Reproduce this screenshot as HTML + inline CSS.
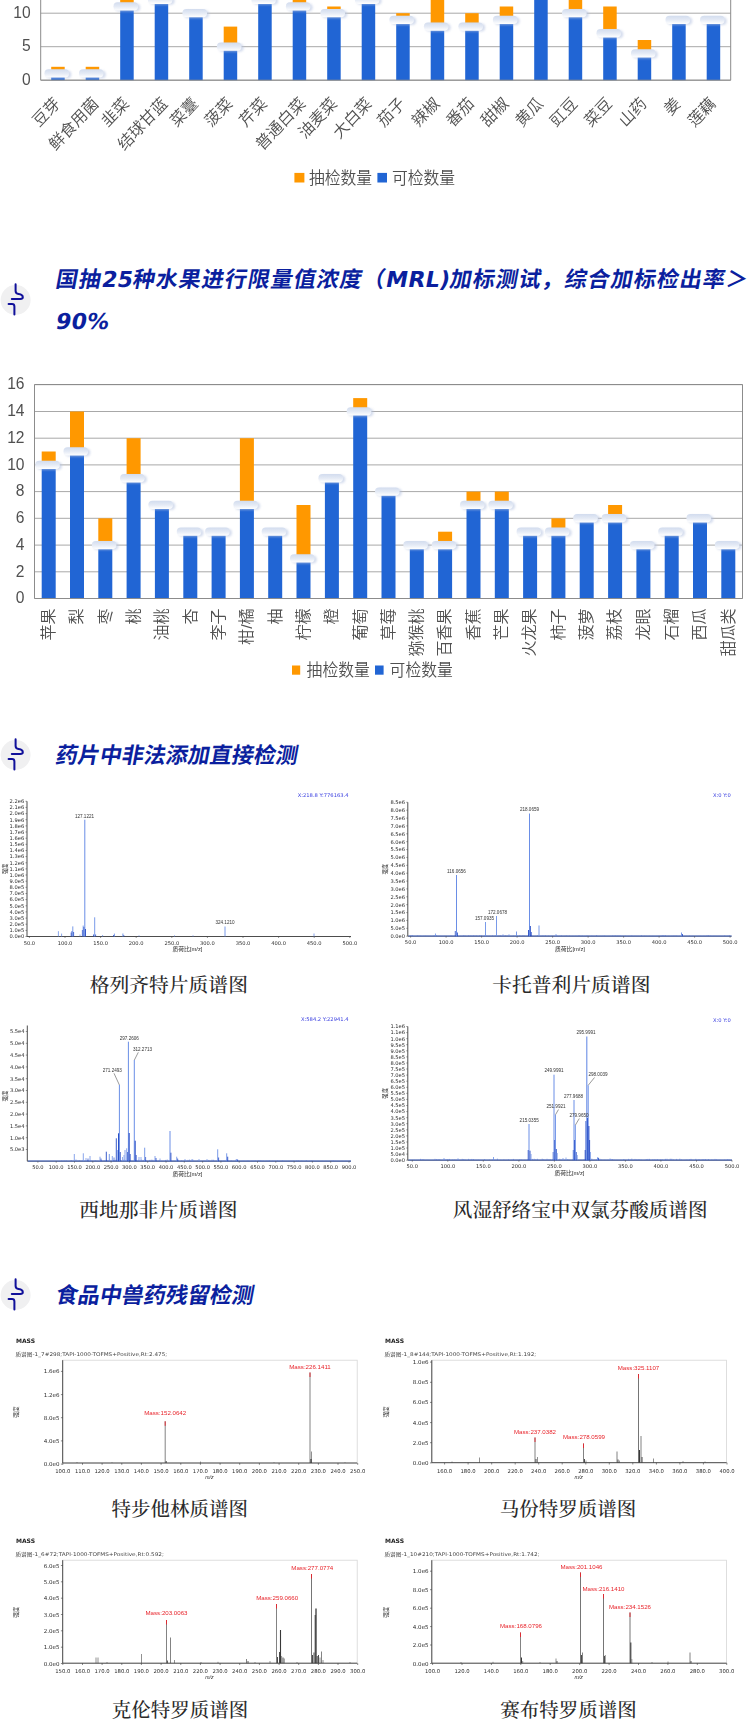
<!DOCTYPE html>
<html lang="zh-CN"><head><meta charset="utf-8"><title>质谱检测</title>
<style>
html,body{margin:0;padding:0;background:#fff;}
body{width:750px;height:1733px;position:relative;overflow:hidden;font-family:"Liberation Sans", "Noto Sans CJK SC", sans-serif;}
#charts{position:absolute;left:0;top:0;width:750px;height:1733px;filter:blur(0.35px);}
.hd{position:absolute;left:55px;margin:0;font-family:"DejaVu Sans", "Noto Sans CJK SC", sans-serif;font-weight:bold;font-style:normal;font-size:22px;line-height:42px;color:#0b1f9e;white-space:nowrap;letter-spacing:0;}
.hd .l{letter-spacing:0.25px;}
.hd .ln{display:block;transform:skewX(-10.5deg);transform-origin:0 62%;}
.ic{position:absolute;left:0;width:32px;height:40px;}
.cap{position:absolute;margin:0;font-family:"Liberation Serif", "Noto Serif CJK SC", serif;font-size:19.8px;line-height:24px;color:#2a2a2a;font-weight:500;white-space:nowrap;transform:translateX(-50%);}
svg text{font-family:"Liberation Sans", "Noto Sans CJK SC", sans-serif;}
svg text.cl{font-weight:350;}
svg text.dj{font-family:"DejaVu Sans", "Noto Sans CJK SC", sans-serif;}
</style></head><body>
<svg id="charts" width="750" height="1733" viewBox="0 0 750 1733">
<defs>
<linearGradient id="pg" x1="0" y1="0" x2="0" y2="1"><stop offset="0" stop-color="#d2dcee"/><stop offset="0.5" stop-color="#e4eaf5"/><stop offset="1" stop-color="#ffffff"/></linearGradient>
<filter id="sb" x="-20%" y="-50%" width="140%" height="200%"><feGaussianBlur stdDeviation="0.9"/></filter>
<g id="pill"><rect x="-11.2" y="-3" width="25" height="8" rx="4" fill="#b9c6e2" opacity="0.6" filter="url(#sb)"/><rect x="-13" y="-4.2" width="24.6" height="8.3" rx="4.1" fill="url(#pg)"/></g>
</defs>
<line x1="40.7" y1="80.2" x2="730.7" y2="80.2" stroke="#a8a8a8" stroke-width="1"/>
<text x="30.7" y="84.9" text-anchor="end" font-size="15.6" fill="#505050">0</text>
<line x1="40.7" y1="46.7" x2="730.7" y2="46.7" stroke="#a8a8a8" stroke-width="1"/>
<text x="30.7" y="51.4" text-anchor="end" font-size="15.6" fill="#505050">5</text>
<line x1="40.7" y1="13.2" x2="730.7" y2="13.2" stroke="#a8a8a8" stroke-width="1"/>
<text x="30.7" y="17.9" text-anchor="end" font-size="15.6" fill="#505050">10</text>
<rect x="51.2" y="66.8" width="13.5" height="6.7" fill="#ff9800"/>
<rect x="51.2" y="73.5" width="13.5" height="6.7" fill="#2165d4"/>
<use href="#pill" x="57.5" y="73.5"/>
<rect x="85.7" y="66.8" width="13.5" height="6.7" fill="#ff9800"/>
<rect x="85.7" y="73.5" width="13.5" height="6.7" fill="#2165d4"/>
<use href="#pill" x="92.0" y="73.5"/>
<rect x="120.2" y="-0.2" width="13.5" height="6.7" fill="#ff9800"/>
<rect x="120.2" y="6.5" width="13.5" height="73.7" fill="#2165d4"/>
<use href="#pill" x="126.5" y="6.5"/>
<rect x="154.7" y="-0.2" width="13.5" height="80.4" fill="#2165d4"/>
<use href="#pill" x="160.9" y="-0.2"/>
<rect x="189.2" y="13.2" width="13.5" height="67.0" fill="#2165d4"/>
<use href="#pill" x="195.4" y="13.2"/>
<rect x="223.7" y="26.6" width="13.5" height="20.1" fill="#ff9800"/>
<rect x="223.7" y="46.7" width="13.5" height="33.5" fill="#2165d4"/>
<use href="#pill" x="229.9" y="46.7"/>
<rect x="258.2" y="-0.2" width="13.5" height="80.4" fill="#2165d4"/>
<use href="#pill" x="264.4" y="-0.2"/>
<rect x="292.7" y="-0.2" width="13.5" height="6.7" fill="#ff9800"/>
<rect x="292.7" y="6.5" width="13.5" height="73.7" fill="#2165d4"/>
<use href="#pill" x="298.9" y="6.5"/>
<rect x="327.2" y="6.5" width="13.5" height="6.7" fill="#ff9800"/>
<rect x="327.2" y="13.2" width="13.5" height="67.0" fill="#2165d4"/>
<use href="#pill" x="333.4" y="13.2"/>
<rect x="361.7" y="-0.2" width="13.5" height="80.4" fill="#2165d4"/>
<use href="#pill" x="367.9" y="-0.2"/>
<rect x="396.2" y="13.2" width="13.5" height="6.7" fill="#ff9800"/>
<rect x="396.2" y="19.9" width="13.5" height="60.3" fill="#2165d4"/>
<use href="#pill" x="402.4" y="19.9"/>
<rect x="430.7" y="-6.9" width="13.5" height="33.5" fill="#ff9800"/>
<rect x="430.7" y="26.6" width="13.5" height="53.6" fill="#2165d4"/>
<use href="#pill" x="436.9" y="26.6"/>
<rect x="465.2" y="13.2" width="13.5" height="13.4" fill="#ff9800"/>
<rect x="465.2" y="26.6" width="13.5" height="53.6" fill="#2165d4"/>
<use href="#pill" x="471.4" y="26.6"/>
<rect x="499.7" y="6.5" width="13.5" height="13.4" fill="#ff9800"/>
<rect x="499.7" y="19.9" width="13.5" height="60.3" fill="#2165d4"/>
<use href="#pill" x="505.9" y="19.9"/>
<rect x="534.2" y="-13.6" width="13.5" height="93.8" fill="#2165d4"/>
<use href="#pill" x="540.5" y="-13.6"/>
<rect x="568.7" y="-6.9" width="13.5" height="20.1" fill="#ff9800"/>
<rect x="568.7" y="13.2" width="13.5" height="67.0" fill="#2165d4"/>
<use href="#pill" x="575.0" y="13.2"/>
<rect x="603.2" y="6.5" width="13.5" height="26.8" fill="#ff9800"/>
<rect x="603.2" y="33.3" width="13.5" height="46.9" fill="#2165d4"/>
<use href="#pill" x="609.5" y="33.3"/>
<rect x="637.7" y="40.0" width="13.5" height="13.4" fill="#ff9800"/>
<rect x="637.7" y="53.4" width="13.5" height="26.8" fill="#2165d4"/>
<use href="#pill" x="644.0" y="53.4"/>
<rect x="672.2" y="19.9" width="13.5" height="60.3" fill="#2165d4"/>
<use href="#pill" x="678.5" y="19.9"/>
<rect x="706.7" y="19.9" width="13.5" height="60.3" fill="#2165d4"/>
<use href="#pill" x="713.0" y="19.9"/>
<path d="M40.7 -10.0 V80.2 H730.7 V-10.0" fill="none" stroke="#8c8c8c" stroke-width="1"/>
<text class="cl" transform="translate(61.0,104.5) scale(1,1.06) rotate(-45)" text-anchor="end" font-size="15.6" fill="#505050">豆芽</text>
<text class="cl" transform="translate(99.5,104.5) scale(1,1.06) rotate(-45)" text-anchor="end" font-size="15.6" fill="#505050">鲜食用菌</text>
<text class="cl" transform="translate(129.9,104.5) scale(1,1.06) rotate(-45)" text-anchor="end" font-size="15.6" fill="#505050">韭菜</text>
<text class="cl" transform="translate(168.4,104.5) scale(1,1.06) rotate(-45)" text-anchor="end" font-size="15.6" fill="#505050">结球甘蓝</text>
<text class="cl" transform="translate(198.9,104.5) scale(1,1.06) rotate(-45)" text-anchor="end" font-size="15.6" fill="#505050">菜薹</text>
<text class="cl" transform="translate(233.4,104.5) scale(1,1.06) rotate(-45)" text-anchor="end" font-size="15.6" fill="#505050">菠菜</text>
<text class="cl" transform="translate(267.9,104.5) scale(1,1.06) rotate(-45)" text-anchor="end" font-size="15.6" fill="#505050">芹菜</text>
<text class="cl" transform="translate(306.4,104.5) scale(1,1.06) rotate(-45)" text-anchor="end" font-size="15.6" fill="#505050">普通白菜</text>
<text class="cl" transform="translate(338.1,104.5) scale(1,1.06) rotate(-45)" text-anchor="end" font-size="15.6" fill="#505050">油麦菜</text>
<text class="cl" transform="translate(372.6,104.5) scale(1,1.06) rotate(-45)" text-anchor="end" font-size="15.6" fill="#505050">大白菜</text>
<text class="cl" transform="translate(405.9,104.5) scale(1,1.06) rotate(-45)" text-anchor="end" font-size="15.6" fill="#505050">茄子</text>
<text class="cl" transform="translate(440.4,104.5) scale(1,1.06) rotate(-45)" text-anchor="end" font-size="15.6" fill="#505050">辣椒</text>
<text class="cl" transform="translate(474.9,104.5) scale(1,1.06) rotate(-45)" text-anchor="end" font-size="15.6" fill="#505050">番茄</text>
<text class="cl" transform="translate(509.5,104.5) scale(1,1.06) rotate(-45)" text-anchor="end" font-size="15.6" fill="#505050">甜椒</text>
<text class="cl" transform="translate(544.0,104.5) scale(1,1.06) rotate(-45)" text-anchor="end" font-size="15.6" fill="#505050">黄瓜</text>
<text class="cl" transform="translate(578.5,104.5) scale(1,1.06) rotate(-45)" text-anchor="end" font-size="15.6" fill="#505050">豇豆</text>
<text class="cl" transform="translate(613.0,104.5) scale(1,1.06) rotate(-45)" text-anchor="end" font-size="15.6" fill="#505050">菜豆</text>
<text class="cl" transform="translate(647.5,104.5) scale(1,1.06) rotate(-45)" text-anchor="end" font-size="15.6" fill="#505050">山药</text>
<text class="cl" transform="translate(681.5,104.5) scale(1,1.06) rotate(-45)" text-anchor="end" font-size="15.6" fill="#505050">姜</text>
<text class="cl" transform="translate(716.5,104.5) scale(1,1.06) rotate(-45)" text-anchor="end" font-size="15.6" fill="#505050">莲藕</text>
<rect x="294.4" y="172.9" width="10.0" height="9.6" fill="#ff9800"/>
<text class="cl" transform="translate(309.0,183.5) scale(1,1.05)" font-size="15.8" fill="#505050">抽检数量</text>
<rect x="377.4" y="172.9" width="9.6" height="9.6" fill="#2165d4"/>
<text class="cl" transform="translate(392.0,183.5) scale(1,1.05)" font-size="15.8" fill="#505050">可检数量</text>
<line x1="34.5" y1="598.5" x2="742.5" y2="598.5" stroke="#a8a8a8" stroke-width="1"/>
<text x="24.5" y="603.2" text-anchor="end" font-size="15.6" fill="#505050">0</text>
<line x1="34.5" y1="571.8" x2="742.5" y2="571.8" stroke="#a8a8a8" stroke-width="1"/>
<text x="24.5" y="576.5" text-anchor="end" font-size="15.6" fill="#505050">2</text>
<line x1="34.5" y1="545.1" x2="742.5" y2="545.1" stroke="#a8a8a8" stroke-width="1"/>
<text x="24.5" y="549.8" text-anchor="end" font-size="15.6" fill="#505050">4</text>
<line x1="34.5" y1="518.3" x2="742.5" y2="518.3" stroke="#a8a8a8" stroke-width="1"/>
<text x="24.5" y="523.0" text-anchor="end" font-size="15.6" fill="#505050">6</text>
<line x1="34.5" y1="491.6" x2="742.5" y2="491.6" stroke="#a8a8a8" stroke-width="1"/>
<text x="24.5" y="496.3" text-anchor="end" font-size="15.6" fill="#505050">8</text>
<line x1="34.5" y1="464.9" x2="742.5" y2="464.9" stroke="#a8a8a8" stroke-width="1"/>
<text x="24.5" y="469.6" text-anchor="end" font-size="15.6" fill="#505050">10</text>
<line x1="34.5" y1="438.2" x2="742.5" y2="438.2" stroke="#a8a8a8" stroke-width="1"/>
<text x="24.5" y="442.9" text-anchor="end" font-size="15.6" fill="#505050">12</text>
<line x1="34.5" y1="411.5" x2="742.5" y2="411.5" stroke="#a8a8a8" stroke-width="1"/>
<text x="24.5" y="416.2" text-anchor="end" font-size="15.6" fill="#505050">14</text>
<line x1="34.5" y1="384.7" x2="742.5" y2="384.7" stroke="#a8a8a8" stroke-width="1"/>
<text x="24.5" y="389.4" text-anchor="end" font-size="15.6" fill="#505050">16</text>
<rect x="41.7" y="451.5" width="14.0" height="13.4" fill="#ff9800"/>
<rect x="41.7" y="464.9" width="14.0" height="133.6" fill="#2165d4"/>
<use href="#pill" x="48.2" y="464.9"/>
<rect x="70.0" y="411.5" width="14.0" height="40.1" fill="#ff9800"/>
<rect x="70.0" y="451.5" width="14.0" height="147.0" fill="#2165d4"/>
<use href="#pill" x="76.5" y="451.5"/>
<rect x="98.3" y="518.3" width="14.0" height="26.7" fill="#ff9800"/>
<rect x="98.3" y="545.1" width="14.0" height="53.4" fill="#2165d4"/>
<use href="#pill" x="104.8" y="545.1"/>
<rect x="126.6" y="438.2" width="14.0" height="40.1" fill="#ff9800"/>
<rect x="126.6" y="478.3" width="14.0" height="120.2" fill="#2165d4"/>
<use href="#pill" x="133.1" y="478.3"/>
<rect x="154.9" y="505.0" width="14.0" height="93.5" fill="#2165d4"/>
<use href="#pill" x="161.4" y="505.0"/>
<rect x="183.3" y="531.7" width="14.0" height="66.8" fill="#2165d4"/>
<use href="#pill" x="189.8" y="531.7"/>
<rect x="211.6" y="531.7" width="14.0" height="66.8" fill="#2165d4"/>
<use href="#pill" x="218.1" y="531.7"/>
<rect x="239.9" y="438.2" width="14.0" height="66.8" fill="#ff9800"/>
<rect x="239.9" y="505.0" width="14.0" height="93.5" fill="#2165d4"/>
<use href="#pill" x="246.4" y="505.0"/>
<rect x="268.2" y="531.7" width="14.0" height="66.8" fill="#2165d4"/>
<use href="#pill" x="274.7" y="531.7"/>
<rect x="296.5" y="505.0" width="14.0" height="53.4" fill="#ff9800"/>
<rect x="296.5" y="558.4" width="14.0" height="40.1" fill="#2165d4"/>
<use href="#pill" x="303.0" y="558.4"/>
<rect x="324.9" y="478.3" width="14.0" height="120.2" fill="#2165d4"/>
<use href="#pill" x="331.4" y="478.3"/>
<rect x="353.2" y="398.1" width="14.0" height="13.4" fill="#ff9800"/>
<rect x="353.2" y="411.5" width="14.0" height="187.0" fill="#2165d4"/>
<use href="#pill" x="359.7" y="411.5"/>
<rect x="381.5" y="491.6" width="14.0" height="106.9" fill="#2165d4"/>
<use href="#pill" x="388.0" y="491.6"/>
<rect x="409.8" y="545.1" width="14.0" height="53.4" fill="#2165d4"/>
<use href="#pill" x="416.3" y="545.1"/>
<rect x="438.1" y="531.7" width="14.0" height="13.4" fill="#ff9800"/>
<rect x="438.1" y="545.1" width="14.0" height="53.4" fill="#2165d4"/>
<use href="#pill" x="444.6" y="545.1"/>
<rect x="466.5" y="491.6" width="14.0" height="13.4" fill="#ff9800"/>
<rect x="466.5" y="505.0" width="14.0" height="93.5" fill="#2165d4"/>
<use href="#pill" x="473.0" y="505.0"/>
<rect x="494.8" y="491.6" width="14.0" height="13.4" fill="#ff9800"/>
<rect x="494.8" y="505.0" width="14.0" height="93.5" fill="#2165d4"/>
<use href="#pill" x="501.3" y="505.0"/>
<rect x="523.1" y="531.7" width="14.0" height="66.8" fill="#2165d4"/>
<use href="#pill" x="529.6" y="531.7"/>
<rect x="551.4" y="518.3" width="14.0" height="13.4" fill="#ff9800"/>
<rect x="551.4" y="531.7" width="14.0" height="66.8" fill="#2165d4"/>
<use href="#pill" x="557.9" y="531.7"/>
<rect x="579.7" y="518.3" width="14.0" height="80.2" fill="#2165d4"/>
<use href="#pill" x="586.2" y="518.3"/>
<rect x="608.1" y="505.0" width="14.0" height="13.4" fill="#ff9800"/>
<rect x="608.1" y="518.3" width="14.0" height="80.2" fill="#2165d4"/>
<use href="#pill" x="614.6" y="518.3"/>
<rect x="636.4" y="545.1" width="14.0" height="53.4" fill="#2165d4"/>
<use href="#pill" x="642.9" y="545.1"/>
<rect x="664.7" y="531.7" width="14.0" height="66.8" fill="#2165d4"/>
<use href="#pill" x="671.2" y="531.7"/>
<rect x="693.0" y="518.3" width="14.0" height="80.2" fill="#2165d4"/>
<use href="#pill" x="699.5" y="518.3"/>
<rect x="721.3" y="545.1" width="14.0" height="53.4" fill="#2165d4"/>
<use href="#pill" x="727.8" y="545.1"/>
<path d="M34.5 384.5 V598.5 H742.5 V384.5" fill="none" stroke="#8c8c8c" stroke-width="1"/>
<line x1="34.5" y1="384.5" x2="742.5" y2="384.5" stroke="#8c8c8c" stroke-width="1"/>
<text class="cl" transform="translate(54.0,608.3) rotate(-90) scale(1,0.96)" text-anchor="end" font-size="16.1" fill="#505050">苹果</text>
<text class="cl" transform="translate(82.3,608.3) rotate(-90) scale(1,0.96)" text-anchor="end" font-size="16.1" fill="#505050">梨</text>
<text class="cl" transform="translate(110.6,608.3) rotate(-90) scale(1,0.96)" text-anchor="end" font-size="16.1" fill="#505050">枣</text>
<text class="cl" transform="translate(138.9,608.3) rotate(-90) scale(1,0.96)" text-anchor="end" font-size="16.1" fill="#505050">桃</text>
<text class="cl" transform="translate(167.2,608.3) rotate(-90) scale(1,0.96)" text-anchor="end" font-size="16.1" fill="#505050">油桃</text>
<text class="cl" transform="translate(195.6,608.3) rotate(-90) scale(1,0.96)" text-anchor="end" font-size="16.1" fill="#505050">杏</text>
<text class="cl" transform="translate(223.9,608.3) rotate(-90) scale(1,0.96)" text-anchor="end" font-size="16.1" fill="#505050">李子</text>
<text class="cl" transform="translate(252.2,608.3) rotate(-90) scale(1,0.96)" text-anchor="end" font-size="16.1" fill="#505050">柑/橘</text>
<text class="cl" transform="translate(280.5,608.3) rotate(-90) scale(1,0.96)" text-anchor="end" font-size="16.1" fill="#505050">柚</text>
<text class="cl" transform="translate(308.8,608.3) rotate(-90) scale(1,0.96)" text-anchor="end" font-size="16.1" fill="#505050">柠檬</text>
<text class="cl" transform="translate(337.2,608.3) rotate(-90) scale(1,0.96)" text-anchor="end" font-size="16.1" fill="#505050">橙</text>
<text class="cl" transform="translate(365.5,608.3) rotate(-90) scale(1,0.96)" text-anchor="end" font-size="16.1" fill="#505050">葡萄</text>
<text class="cl" transform="translate(393.8,608.3) rotate(-90) scale(1,0.96)" text-anchor="end" font-size="16.1" fill="#505050">草莓</text>
<text class="cl" transform="translate(422.1,608.3) rotate(-90) scale(1,0.96)" text-anchor="end" font-size="16.1" fill="#505050">猕猴桃</text>
<text class="cl" transform="translate(450.4,608.3) rotate(-90) scale(1,0.96)" text-anchor="end" font-size="16.1" fill="#505050">百香果</text>
<text class="cl" transform="translate(478.8,608.3) rotate(-90) scale(1,0.96)" text-anchor="end" font-size="16.1" fill="#505050">香蕉</text>
<text class="cl" transform="translate(507.1,608.3) rotate(-90) scale(1,0.96)" text-anchor="end" font-size="16.1" fill="#505050">芒果</text>
<text class="cl" transform="translate(535.4,608.3) rotate(-90) scale(1,0.96)" text-anchor="end" font-size="16.1" fill="#505050">火龙果</text>
<text class="cl" transform="translate(563.7,608.3) rotate(-90) scale(1,0.96)" text-anchor="end" font-size="16.1" fill="#505050">柿子</text>
<text class="cl" transform="translate(592.0,608.3) rotate(-90) scale(1,0.96)" text-anchor="end" font-size="16.1" fill="#505050">菠萝</text>
<text class="cl" transform="translate(620.4,608.3) rotate(-90) scale(1,0.96)" text-anchor="end" font-size="16.1" fill="#505050">荔枝</text>
<text class="cl" transform="translate(648.7,608.3) rotate(-90) scale(1,0.96)" text-anchor="end" font-size="16.1" fill="#505050">龙眼</text>
<text class="cl" transform="translate(677.0,608.3) rotate(-90) scale(1,0.96)" text-anchor="end" font-size="16.1" fill="#505050">石榴</text>
<text class="cl" transform="translate(705.3,608.3) rotate(-90) scale(1,0.96)" text-anchor="end" font-size="16.1" fill="#505050">西瓜</text>
<text class="cl" transform="translate(733.6,608.3) rotate(-90) scale(1,0.96)" text-anchor="end" font-size="16.1" fill="#505050">甜瓜类</text>
<rect x="292.0" y="665.5" width="8.2" height="9.2" fill="#ff9800"/>
<text class="cl" transform="translate(306.6,675.9) scale(1,1.05)" font-size="15.8" fill="#505050">抽检数量</text>
<rect x="375.0" y="665.5" width="8.6" height="9.2" fill="#2165d4"/>
<text class="cl" transform="translate(389.6,675.9) scale(1,1.05)" font-size="15.8" fill="#505050">可检数量</text>
<g>
<path d="M27.0 801.3 V936.5 H351.0" fill="none" stroke="#4d4d4d" stroke-width="1"/>
<line x1="58.4" y1="936.5" x2="58.4" y2="931.2" stroke="#6a8ee6" stroke-width="0.8"/>
<line x1="61.6" y1="936.5" x2="61.6" y2="933.6" stroke="#6a8ee6" stroke-width="0.8"/>
<line x1="71.2" y1="936.5" x2="71.2" y2="932.5" stroke="#2248c4" stroke-width="0.8"/>
<line x1="72.0" y1="936.5" x2="72.0" y2="931.0" stroke="#2248c4" stroke-width="0.8"/>
<line x1="72.8" y1="936.5" x2="72.8" y2="926.4" stroke="#6a8ee6" stroke-width="0.9"/>
<line x1="73.6" y1="936.5" x2="73.6" y2="932.0" stroke="#2248c4" stroke-width="0.8"/>
<line x1="80.0" y1="936.5" x2="80.0" y2="934.5" stroke="#6a8ee6" stroke-width="0.7"/>
<line x1="82.4" y1="936.5" x2="82.4" y2="930.0" stroke="#2248c4" stroke-width="0.8"/>
<line x1="83.2" y1="936.5" x2="83.2" y2="925.6" stroke="#6a8ee6" stroke-width="0.9"/>
<line x1="84.0" y1="936.5" x2="84.0" y2="927.0" stroke="#2248c4" stroke-width="0.9"/>
<line x1="84.8" y1="936.5" x2="84.8" y2="819.7" stroke="#6a8ee6" stroke-width="1.0"/>
<line x1="85.5" y1="936.5" x2="85.5" y2="929.0" stroke="#2248c4" stroke-width="0.9"/>
<line x1="94.7" y1="936.5" x2="94.7" y2="917.3" stroke="#6a8ee6" stroke-width="0.9"/>
<line x1="93.5" y1="936.5" x2="93.5" y2="934.5" stroke="#2248c4" stroke-width="0.8"/>
<line x1="95.6" y1="936.5" x2="95.6" y2="934.5" stroke="#2248c4" stroke-width="0.8"/>
<line x1="102.6" y1="936.5" x2="102.6" y2="935.0" stroke="#6a8ee6" stroke-width="0.8"/>
<line x1="114.4" y1="936.5" x2="114.4" y2="933.6" stroke="#6a8ee6" stroke-width="0.9"/>
<line x1="113.6" y1="936.5" x2="113.6" y2="935.0" stroke="#2248c4" stroke-width="0.8"/>
<line x1="122.9" y1="936.5" x2="122.9" y2="933.5" stroke="#6a8ee6" stroke-width="0.9"/>
<line x1="123.8" y1="936.5" x2="123.8" y2="935.0" stroke="#2248c4" stroke-width="0.7"/>
<line x1="225.0" y1="936.5" x2="225.0" y2="926.5" stroke="#6a8ee6" stroke-width="0.9"/>
<line x1="314.0" y1="936.5" x2="314.0" y2="933.5" stroke="#6a8ee6" stroke-width="0.8"/>
<line x1="139.0" y1="936.5" x2="139.0" y2="935.3" stroke="#6a8ee6" stroke-width="0.7"/>
<line x1="174.5" y1="936.5" x2="174.5" y2="935.3" stroke="#6a8ee6" stroke-width="0.7"/>
<line x1="193.0" y1="936.5" x2="193.0" y2="935.3" stroke="#6a8ee6" stroke-width="0.7"/>
<line x1="25.5" y1="936.5" x2="27.0" y2="936.5" stroke="#4d4d4d" stroke-width="0.6"/>
<text class="dj" x="24.2" y="938.3" text-anchor="end" font-size="5.15" fill="#2c2c2c">0.0e0</text>
<line x1="25.5" y1="930.4" x2="27.0" y2="930.4" stroke="#4d4d4d" stroke-width="0.6"/>
<text class="dj" x="24.2" y="932.2" text-anchor="end" font-size="5.15" fill="#2c2c2c">1.0e5</text>
<line x1="25.5" y1="924.2" x2="27.0" y2="924.2" stroke="#4d4d4d" stroke-width="0.6"/>
<text class="dj" x="24.2" y="926.0" text-anchor="end" font-size="5.15" fill="#2c2c2c">2.0e5</text>
<line x1="25.5" y1="918.1" x2="27.0" y2="918.1" stroke="#4d4d4d" stroke-width="0.6"/>
<text class="dj" x="24.2" y="919.9" text-anchor="end" font-size="5.15" fill="#2c2c2c">3.0e5</text>
<line x1="25.5" y1="911.9" x2="27.0" y2="911.9" stroke="#4d4d4d" stroke-width="0.6"/>
<text class="dj" x="24.2" y="913.7" text-anchor="end" font-size="5.15" fill="#2c2c2c">4.0e5</text>
<line x1="25.5" y1="905.8" x2="27.0" y2="905.8" stroke="#4d4d4d" stroke-width="0.6"/>
<text class="dj" x="24.2" y="907.6" text-anchor="end" font-size="5.15" fill="#2c2c2c">5.0e5</text>
<line x1="25.5" y1="899.6" x2="27.0" y2="899.6" stroke="#4d4d4d" stroke-width="0.6"/>
<text class="dj" x="24.2" y="901.4" text-anchor="end" font-size="5.15" fill="#2c2c2c">6.0e5</text>
<line x1="25.5" y1="893.5" x2="27.0" y2="893.5" stroke="#4d4d4d" stroke-width="0.6"/>
<text class="dj" x="24.2" y="895.3" text-anchor="end" font-size="5.15" fill="#2c2c2c">7.0e5</text>
<line x1="25.5" y1="887.3" x2="27.0" y2="887.3" stroke="#4d4d4d" stroke-width="0.6"/>
<text class="dj" x="24.2" y="889.1" text-anchor="end" font-size="5.15" fill="#2c2c2c">8.0e5</text>
<line x1="25.5" y1="881.2" x2="27.0" y2="881.2" stroke="#4d4d4d" stroke-width="0.6"/>
<text class="dj" x="24.2" y="883.0" text-anchor="end" font-size="5.15" fill="#2c2c2c">9.0e5</text>
<line x1="25.5" y1="875.0" x2="27.0" y2="875.0" stroke="#4d4d4d" stroke-width="0.6"/>
<text class="dj" x="24.2" y="876.8" text-anchor="end" font-size="5.15" fill="#2c2c2c">1.0e6</text>
<line x1="25.5" y1="868.9" x2="27.0" y2="868.9" stroke="#4d4d4d" stroke-width="0.6"/>
<text class="dj" x="24.2" y="870.7" text-anchor="end" font-size="5.15" fill="#2c2c2c">1.1e6</text>
<line x1="25.5" y1="862.8" x2="27.0" y2="862.8" stroke="#4d4d4d" stroke-width="0.6"/>
<text class="dj" x="24.2" y="864.6" text-anchor="end" font-size="5.15" fill="#2c2c2c">1.2e6</text>
<line x1="25.5" y1="856.6" x2="27.0" y2="856.6" stroke="#4d4d4d" stroke-width="0.6"/>
<text class="dj" x="24.2" y="858.4" text-anchor="end" font-size="5.15" fill="#2c2c2c">1.3e6</text>
<line x1="25.5" y1="850.5" x2="27.0" y2="850.5" stroke="#4d4d4d" stroke-width="0.6"/>
<text class="dj" x="24.2" y="852.3" text-anchor="end" font-size="5.15" fill="#2c2c2c">1.4e6</text>
<line x1="25.5" y1="844.3" x2="27.0" y2="844.3" stroke="#4d4d4d" stroke-width="0.6"/>
<text class="dj" x="24.2" y="846.1" text-anchor="end" font-size="5.15" fill="#2c2c2c">1.5e6</text>
<line x1="25.5" y1="838.2" x2="27.0" y2="838.2" stroke="#4d4d4d" stroke-width="0.6"/>
<text class="dj" x="24.2" y="840.0" text-anchor="end" font-size="5.15" fill="#2c2c2c">1.6e6</text>
<line x1="25.5" y1="832.0" x2="27.0" y2="832.0" stroke="#4d4d4d" stroke-width="0.6"/>
<text class="dj" x="24.2" y="833.8" text-anchor="end" font-size="5.15" fill="#2c2c2c">1.7e6</text>
<line x1="25.5" y1="825.9" x2="27.0" y2="825.9" stroke="#4d4d4d" stroke-width="0.6"/>
<text class="dj" x="24.2" y="827.7" text-anchor="end" font-size="5.15" fill="#2c2c2c">1.8e6</text>
<line x1="25.5" y1="819.7" x2="27.0" y2="819.7" stroke="#4d4d4d" stroke-width="0.6"/>
<text class="dj" x="24.2" y="821.5" text-anchor="end" font-size="5.15" fill="#2c2c2c">1.9e6</text>
<line x1="25.5" y1="813.6" x2="27.0" y2="813.6" stroke="#4d4d4d" stroke-width="0.6"/>
<text class="dj" x="24.2" y="815.4" text-anchor="end" font-size="5.15" fill="#2c2c2c">2.0e6</text>
<line x1="25.5" y1="807.4" x2="27.0" y2="807.4" stroke="#4d4d4d" stroke-width="0.6"/>
<text class="dj" x="24.2" y="809.2" text-anchor="end" font-size="5.15" fill="#2c2c2c">2.1e6</text>
<line x1="25.5" y1="801.3" x2="27.0" y2="801.3" stroke="#4d4d4d" stroke-width="0.6"/>
<text class="dj" x="24.2" y="803.1" text-anchor="end" font-size="5.15" fill="#2c2c2c">2.2e6</text>
<line x1="29.4" y1="936.5" x2="29.4" y2="938.0" stroke="#4d4d4d" stroke-width="0.6"/>
<text class="dj" x="29.4" y="944.6" text-anchor="middle" font-size="5.15" fill="#2c2c2c">50.0</text>
<line x1="65.0" y1="936.5" x2="65.0" y2="938.0" stroke="#4d4d4d" stroke-width="0.6"/>
<text class="dj" x="65.0" y="944.6" text-anchor="middle" font-size="5.15" fill="#2c2c2c">100.0</text>
<line x1="100.6" y1="936.5" x2="100.6" y2="938.0" stroke="#4d4d4d" stroke-width="0.6"/>
<text class="dj" x="100.6" y="944.6" text-anchor="middle" font-size="5.15" fill="#2c2c2c">150.0</text>
<line x1="136.2" y1="936.5" x2="136.2" y2="938.0" stroke="#4d4d4d" stroke-width="0.6"/>
<text class="dj" x="136.2" y="944.6" text-anchor="middle" font-size="5.15" fill="#2c2c2c">200.0</text>
<line x1="171.8" y1="936.5" x2="171.8" y2="938.0" stroke="#4d4d4d" stroke-width="0.6"/>
<text class="dj" x="171.8" y="944.6" text-anchor="middle" font-size="5.15" fill="#2c2c2c">250.0</text>
<line x1="207.4" y1="936.5" x2="207.4" y2="938.0" stroke="#4d4d4d" stroke-width="0.6"/>
<text class="dj" x="207.4" y="944.6" text-anchor="middle" font-size="5.15" fill="#2c2c2c">300.0</text>
<line x1="243.0" y1="936.5" x2="243.0" y2="938.0" stroke="#4d4d4d" stroke-width="0.6"/>
<text class="dj" x="243.0" y="944.6" text-anchor="middle" font-size="5.15" fill="#2c2c2c">350.0</text>
<line x1="278.6" y1="936.5" x2="278.6" y2="938.0" stroke="#4d4d4d" stroke-width="0.6"/>
<text class="dj" x="278.6" y="944.6" text-anchor="middle" font-size="5.15" fill="#2c2c2c">400.0</text>
<line x1="314.2" y1="936.5" x2="314.2" y2="938.0" stroke="#4d4d4d" stroke-width="0.6"/>
<text class="dj" x="314.2" y="944.6" text-anchor="middle" font-size="5.15" fill="#2c2c2c">450.0</text>
<line x1="349.8" y1="936.5" x2="349.8" y2="938.0" stroke="#4d4d4d" stroke-width="0.6"/>
<text class="dj" x="349.8" y="944.6" text-anchor="middle" font-size="5.15" fill="#2c2c2c">500.0</text>
<text x="187.5" y="951.1" text-anchor="middle" font-size="5.8" fill="#2c2c2c">质荷比[m/z]</text>
<text transform="translate(7.2,868.9) rotate(-90)" text-anchor="middle" font-size="5.4" fill="#2c2c2c">强度</text>
<text x="84.5" y="817.8" text-anchor="middle" font-size="4.6" fill="#333">127.1221</text>
<text x="225.0" y="924.1" text-anchor="middle" font-size="4.6" fill="#333">324.1210</text>
<text class="dj" x="348.5" y="796.9" text-anchor="end" font-size="5.2" fill="#3b40e0">X:218.8 Y:776163.4</text>
</g>
<g>
<path d="M407.8 802.3 V936.2 H731.6" fill="none" stroke="#4d4d4d" stroke-width="1"/>
<line x1="408.4" y1="936.0" x2="731.6" y2="936.0" stroke="#3f66d6" stroke-width="1" opacity="0.85"/>
<path d="M411.0 936.2v-1.0M412.6 936.2v-1.0M414.2 936.2v-0.3M415.8 936.2v-0.3M417.4 936.2v-0.8M419.0 936.2v-0.6M420.6 936.2v-0.5M422.2 936.2v-0.3M423.8 936.2v-0.5M425.4 936.2v-0.5M427.0 936.2v-0.5M428.6 936.2v-0.3M430.2 936.2v-0.4M431.8 936.2v-0.3M433.4 936.2v-0.6M435.0 936.2v-1.1M436.6 936.2v-1.0M438.2 936.2v-0.4M439.8 936.2v-0.4M441.4 936.2v-0.3M443.0 936.2v-0.3M444.6 936.2v-0.3M446.2 936.2v-0.4M447.8 936.2v-0.3M449.4 936.2v-0.3M451.0 936.2v-0.9M452.6 936.2v-0.4M454.2 936.2v-0.4M455.8 936.2v-0.3M457.4 936.2v-0.3M459.0 936.2v-0.3M460.6 936.2v-0.3M462.2 936.2v-0.4M463.8 936.2v-1.1M465.4 936.2v-0.5M467.0 936.2v-0.3M468.6 936.2v-0.9M470.2 936.2v-0.7M471.8 936.2v-0.6M473.4 936.2v-0.9M475.0 936.2v-0.7M476.6 936.2v-0.7M478.2 936.2v-0.3M479.8 936.2v-1.1M481.4 936.2v-1.0M483.0 936.2v-0.3M484.6 936.2v-0.6M486.2 936.2v-0.6M487.8 936.2v-0.4M489.4 936.2v-0.4M491.0 936.2v-0.4M492.6 936.2v-0.9M494.2 936.2v-0.4M495.8 936.2v-0.8M497.4 936.2v-0.3M499.0 936.2v-0.9M500.6 936.2v-0.9M502.2 936.2v-0.4M503.8 936.2v-0.4M505.4 936.2v-0.9M507.0 936.2v-0.6M508.6 936.2v-0.4M510.2 936.2v-0.3M511.8 936.2v-0.3M513.4 936.2v-0.6M515.0 936.2v-0.3M516.6 936.2v-0.9M518.2 936.2v-0.3M519.8 936.2v-0.9M521.4 936.2v-0.3M523.0 936.2v-1.0M524.6 936.2v-0.6M526.2 936.2v-0.4M527.8 936.2v-0.4M529.4 936.2v-0.5M531.0 936.2v-0.5M532.6 936.2v-0.3M534.2 936.2v-0.3M535.8 936.2v-0.4M537.4 936.2v-1.0M539.0 936.2v-0.5M540.6 936.2v-0.3M542.2 936.2v-0.7M543.8 936.2v-0.6M545.4 936.2v-0.9M547.0 936.2v-0.3M548.6 936.2v-0.6M550.2 936.2v-0.3M551.8 936.2v-0.5M553.4 936.2v-0.3M555.0 936.2v-0.3M556.6 936.2v-0.8M558.2 936.2v-0.3M559.8 936.2v-0.4M561.4 936.2v-0.8M563.0 936.2v-0.3M564.6 936.2v-0.3M566.2 936.2v-0.8M567.8 936.2v-0.4M569.4 936.2v-0.6M571.0 936.2v-0.3M572.6 936.2v-0.3M574.2 936.2v-0.3M575.8 936.2v-0.5M577.4 936.2v-0.3M579.0 936.2v-1.0M580.6 936.2v-0.3M582.2 936.2v-0.6M583.8 936.2v-0.3M585.4 936.2v-0.3M587.0 936.2v-0.7M588.6 936.2v-0.3M590.2 936.2v-0.3M591.8 936.2v-0.6M593.4 936.2v-0.3M595.0 936.2v-0.3M596.6 936.2v-1.1M598.2 936.2v-0.3M599.8 936.2v-0.3M601.4 936.2v-0.3M603.0 936.2v-0.5M604.6 936.2v-0.6M606.2 936.2v-0.3M607.8 936.2v-0.3M609.4 936.2v-0.3M611.0 936.2v-0.4M612.6 936.2v-0.7M614.2 936.2v-0.6M615.8 936.2v-0.9M617.4 936.2v-0.6M619.0 936.2v-0.8M620.6 936.2v-0.6M622.2 936.2v-0.4M623.8 936.2v-0.3M625.4 936.2v-0.5M627.0 936.2v-0.3M628.6 936.2v-0.3M630.2 936.2v-0.4M631.8 936.2v-0.8M633.4 936.2v-0.3M635.0 936.2v-0.5M636.6 936.2v-0.3M638.2 936.2v-0.4M639.8 936.2v-0.3M641.4 936.2v-1.0M643.0 936.2v-0.3M644.6 936.2v-0.5M646.2 936.2v-0.4M647.8 936.2v-0.3M649.4 936.2v-0.4M651.0 936.2v-0.3M652.6 936.2v-0.3M654.2 936.2v-0.3M655.8 936.2v-0.3M657.4 936.2v-0.3M659.0 936.2v-0.5M660.6 936.2v-0.4M662.2 936.2v-1.1M663.8 936.2v-1.0M665.4 936.2v-1.1M667.0 936.2v-0.3M668.6 936.2v-0.4M670.2 936.2v-0.3M671.8 936.2v-0.5M673.4 936.2v-0.5M675.0 936.2v-0.7M676.6 936.2v-0.6M678.2 936.2v-0.3M679.8 936.2v-0.4M681.4 936.2v-0.4M683.0 936.2v-0.3M684.6 936.2v-0.3M686.2 936.2v-0.4M687.8 936.2v-0.3M689.4 936.2v-0.6M691.0 936.2v-0.3M692.6 936.2v-0.3M694.2 936.2v-0.3M695.8 936.2v-0.3M697.4 936.2v-0.3M699.0 936.2v-0.4M700.6 936.2v-0.4M702.2 936.2v-0.3M703.8 936.2v-0.5M705.4 936.2v-0.3M707.0 936.2v-0.9M708.6 936.2v-1.0M710.2 936.2v-0.6M711.8 936.2v-0.4M713.4 936.2v-0.4M715.0 936.2v-0.5M716.6 936.2v-0.3M718.2 936.2v-0.4M719.8 936.2v-0.4M721.4 936.2v-0.3M723.0 936.2v-0.3M724.6 936.2v-0.7M726.2 936.2v-0.3M727.8 936.2v-0.4M729.4 936.2v-0.9" stroke="#3b62d4" stroke-width="0.5" fill="none" opacity="0.8"/>
<line x1="435.5" y1="936.2" x2="435.5" y2="933.5" stroke="#6a8ee6" stroke-width="0.8"/>
<line x1="455.3" y1="936.2" x2="455.3" y2="931.0" stroke="#2248c4" stroke-width="0.8"/>
<line x1="456.5" y1="936.2" x2="456.5" y2="875.0" stroke="#6a8ee6" stroke-width="1.0"/>
<line x1="457.5" y1="936.2" x2="457.5" y2="932.5" stroke="#2248c4" stroke-width="0.8"/>
<line x1="485.5" y1="936.2" x2="485.5" y2="922.0" stroke="#6a8ee6" stroke-width="0.9"/>
<line x1="496.5" y1="936.2" x2="496.5" y2="916.0" stroke="#6a8ee6" stroke-width="0.9"/>
<line x1="516.5" y1="936.2" x2="516.5" y2="931.5" stroke="#6a8ee6" stroke-width="0.9"/>
<line x1="528.5" y1="936.2" x2="528.5" y2="930.0" stroke="#2248c4" stroke-width="0.9"/>
<line x1="529.5" y1="936.2" x2="529.5" y2="813.5" stroke="#6a8ee6" stroke-width="1.0"/>
<line x1="530.4" y1="936.2" x2="530.4" y2="926.0" stroke="#2248c4" stroke-width="0.9"/>
<line x1="531.3" y1="936.2" x2="531.3" y2="932.0" stroke="#2248c4" stroke-width="0.8"/>
<line x1="539.0" y1="936.2" x2="539.0" y2="925.5" stroke="#6a8ee6" stroke-width="0.9"/>
<line x1="556.0" y1="936.2" x2="556.0" y2="934.0" stroke="#6a8ee6" stroke-width="0.7"/>
<line x1="681.5" y1="936.2" x2="681.5" y2="932.5" stroke="#6a8ee6" stroke-width="0.9"/>
<line x1="682.5" y1="936.2" x2="682.5" y2="934.0" stroke="#2248c4" stroke-width="0.8"/>
<line x1="503.0" y1="936.2" x2="503.0" y2="934.3" stroke="#6a8ee6" stroke-width="0.7"/>
<line x1="509.0" y1="936.2" x2="509.0" y2="934.3" stroke="#6a8ee6" stroke-width="0.7"/>
<line x1="406.3" y1="936.2" x2="407.8" y2="936.2" stroke="#4d4d4d" stroke-width="0.6"/>
<text class="dj" x="405.0" y="938.0" text-anchor="end" font-size="5.15" fill="#2c2c2c">0.0e0</text>
<line x1="406.3" y1="928.3" x2="407.8" y2="928.3" stroke="#4d4d4d" stroke-width="0.6"/>
<text class="dj" x="405.0" y="930.1" text-anchor="end" font-size="5.15" fill="#2c2c2c">5.0e5</text>
<line x1="406.3" y1="920.4" x2="407.8" y2="920.4" stroke="#4d4d4d" stroke-width="0.6"/>
<text class="dj" x="405.0" y="922.2" text-anchor="end" font-size="5.15" fill="#2c2c2c">1.0e6</text>
<line x1="406.3" y1="912.6" x2="407.8" y2="912.6" stroke="#4d4d4d" stroke-width="0.6"/>
<text class="dj" x="405.0" y="914.4" text-anchor="end" font-size="5.15" fill="#2c2c2c">1.5e6</text>
<line x1="406.3" y1="904.7" x2="407.8" y2="904.7" stroke="#4d4d4d" stroke-width="0.6"/>
<text class="dj" x="405.0" y="906.5" text-anchor="end" font-size="5.15" fill="#2c2c2c">2.0e6</text>
<line x1="406.3" y1="896.8" x2="407.8" y2="896.8" stroke="#4d4d4d" stroke-width="0.6"/>
<text class="dj" x="405.0" y="898.6" text-anchor="end" font-size="5.15" fill="#2c2c2c">2.5e6</text>
<line x1="406.3" y1="888.9" x2="407.8" y2="888.9" stroke="#4d4d4d" stroke-width="0.6"/>
<text class="dj" x="405.0" y="890.7" text-anchor="end" font-size="5.15" fill="#2c2c2c">3.0e6</text>
<line x1="406.3" y1="881.1" x2="407.8" y2="881.1" stroke="#4d4d4d" stroke-width="0.6"/>
<text class="dj" x="405.0" y="882.9" text-anchor="end" font-size="5.15" fill="#2c2c2c">3.5e6</text>
<line x1="406.3" y1="873.2" x2="407.8" y2="873.2" stroke="#4d4d4d" stroke-width="0.6"/>
<text class="dj" x="405.0" y="875.0" text-anchor="end" font-size="5.15" fill="#2c2c2c">4.0e6</text>
<line x1="406.3" y1="865.3" x2="407.8" y2="865.3" stroke="#4d4d4d" stroke-width="0.6"/>
<text class="dj" x="405.0" y="867.1" text-anchor="end" font-size="5.15" fill="#2c2c2c">4.5e6</text>
<line x1="406.3" y1="857.4" x2="407.8" y2="857.4" stroke="#4d4d4d" stroke-width="0.6"/>
<text class="dj" x="405.0" y="859.2" text-anchor="end" font-size="5.15" fill="#2c2c2c">5.0e6</text>
<line x1="406.3" y1="849.6" x2="407.8" y2="849.6" stroke="#4d4d4d" stroke-width="0.6"/>
<text class="dj" x="405.0" y="851.4" text-anchor="end" font-size="5.15" fill="#2c2c2c">5.5e6</text>
<line x1="406.3" y1="841.7" x2="407.8" y2="841.7" stroke="#4d4d4d" stroke-width="0.6"/>
<text class="dj" x="405.0" y="843.5" text-anchor="end" font-size="5.15" fill="#2c2c2c">6.0e6</text>
<line x1="406.3" y1="833.8" x2="407.8" y2="833.8" stroke="#4d4d4d" stroke-width="0.6"/>
<text class="dj" x="405.0" y="835.6" text-anchor="end" font-size="5.15" fill="#2c2c2c">6.5e6</text>
<line x1="406.3" y1="825.9" x2="407.8" y2="825.9" stroke="#4d4d4d" stroke-width="0.6"/>
<text class="dj" x="405.0" y="827.7" text-anchor="end" font-size="5.15" fill="#2c2c2c">7.0e6</text>
<line x1="406.3" y1="818.1" x2="407.8" y2="818.1" stroke="#4d4d4d" stroke-width="0.6"/>
<text class="dj" x="405.0" y="819.9" text-anchor="end" font-size="5.15" fill="#2c2c2c">7.5e6</text>
<line x1="406.3" y1="810.2" x2="407.8" y2="810.2" stroke="#4d4d4d" stroke-width="0.6"/>
<text class="dj" x="405.0" y="812.0" text-anchor="end" font-size="5.15" fill="#2c2c2c">8.0e6</text>
<line x1="406.3" y1="802.3" x2="407.8" y2="802.3" stroke="#4d4d4d" stroke-width="0.6"/>
<text class="dj" x="405.0" y="804.1" text-anchor="end" font-size="5.15" fill="#2c2c2c">8.5e6</text>
<line x1="410.6" y1="936.2" x2="410.6" y2="937.7" stroke="#4d4d4d" stroke-width="0.6"/>
<text class="dj" x="410.6" y="944.3" text-anchor="middle" font-size="5.15" fill="#2c2c2c">50.0</text>
<line x1="446.1" y1="936.2" x2="446.1" y2="937.7" stroke="#4d4d4d" stroke-width="0.6"/>
<text class="dj" x="446.1" y="944.3" text-anchor="middle" font-size="5.15" fill="#2c2c2c">100.0</text>
<line x1="481.6" y1="936.2" x2="481.6" y2="937.7" stroke="#4d4d4d" stroke-width="0.6"/>
<text class="dj" x="481.6" y="944.3" text-anchor="middle" font-size="5.15" fill="#2c2c2c">150.0</text>
<line x1="517.1" y1="936.2" x2="517.1" y2="937.7" stroke="#4d4d4d" stroke-width="0.6"/>
<text class="dj" x="517.1" y="944.3" text-anchor="middle" font-size="5.15" fill="#2c2c2c">200.0</text>
<line x1="552.6" y1="936.2" x2="552.6" y2="937.7" stroke="#4d4d4d" stroke-width="0.6"/>
<text class="dj" x="552.6" y="944.3" text-anchor="middle" font-size="5.15" fill="#2c2c2c">250.0</text>
<line x1="588.1" y1="936.2" x2="588.1" y2="937.7" stroke="#4d4d4d" stroke-width="0.6"/>
<text class="dj" x="588.1" y="944.3" text-anchor="middle" font-size="5.15" fill="#2c2c2c">300.0</text>
<line x1="623.6" y1="936.2" x2="623.6" y2="937.7" stroke="#4d4d4d" stroke-width="0.6"/>
<text class="dj" x="623.6" y="944.3" text-anchor="middle" font-size="5.15" fill="#2c2c2c">350.0</text>
<line x1="659.1" y1="936.2" x2="659.1" y2="937.7" stroke="#4d4d4d" stroke-width="0.6"/>
<text class="dj" x="659.1" y="944.3" text-anchor="middle" font-size="5.15" fill="#2c2c2c">400.0</text>
<line x1="694.6" y1="936.2" x2="694.6" y2="937.7" stroke="#4d4d4d" stroke-width="0.6"/>
<text class="dj" x="694.6" y="944.3" text-anchor="middle" font-size="5.15" fill="#2c2c2c">450.0</text>
<line x1="730.1" y1="936.2" x2="730.1" y2="937.7" stroke="#4d4d4d" stroke-width="0.6"/>
<text class="dj" x="730.1" y="944.3" text-anchor="middle" font-size="5.15" fill="#2c2c2c">500.0</text>
<text x="570.0" y="950.8" text-anchor="middle" font-size="5.8" fill="#2c2c2c">质荷比[m/z]</text>
<text transform="translate(387.2,869.2) rotate(-90)" text-anchor="middle" font-size="5.4" fill="#2c2c2c">强度</text>
<text x="456.5" y="872.6" text-anchor="middle" font-size="4.6" fill="#333">116.0656</text>
<text x="529.5" y="810.6" text-anchor="middle" font-size="4.6" fill="#333">218.0659</text>
<text x="484.5" y="920.1" text-anchor="middle" font-size="4.6" fill="#333">157.0935</text>
<text x="497.5" y="913.6" text-anchor="middle" font-size="4.6" fill="#333">172.0678</text>
<text class="dj" x="730.8" y="797.3" text-anchor="end" font-size="5.2" fill="#3b40e0">X:0 Y:0</text>
</g>
<g>
<path d="M27.3 1025.5 V1161.2 H351.0" fill="none" stroke="#4d4d4d" stroke-width="1"/>
<line x1="27.9" y1="1161.0" x2="351.0" y2="1161.0" stroke="#3f66d6" stroke-width="1.1" opacity="0.9"/>
<path d="M60.0 1161.2v-0.3M61.6 1161.2v-0.6M63.2 1161.2v-0.4M64.8 1161.2v-0.7M66.4 1161.2v-0.7M68.0 1161.2v-0.3M69.6 1161.2v-0.3M71.2 1161.2v-1.2M72.8 1161.2v-0.3M74.4 1161.2v-0.3M76.0 1161.2v-1.9M77.6 1161.2v-0.5M79.2 1161.2v-1.2M80.8 1161.2v-0.5M82.4 1161.2v-0.7M84.0 1161.2v-0.3M85.6 1161.2v-0.7M87.2 1161.2v-1.3M88.8 1161.2v-0.5M90.4 1161.2v-1.0M92.0 1161.2v-0.8M93.6 1161.2v-0.3M95.2 1161.2v-1.0M96.8 1161.2v-0.6M98.4 1161.2v-0.3M100.0 1161.2v-0.3M101.6 1161.2v-1.3M103.2 1161.2v-0.5M104.8 1161.2v-0.9M106.4 1161.2v-1.4M108.0 1161.2v-0.9M109.6 1161.2v-1.6M111.2 1161.2v-0.4M112.8 1161.2v-1.1M114.4 1161.2v-0.4M116.0 1161.2v-1.6M117.6 1161.2v-1.4M119.2 1161.2v-0.3M120.8 1161.2v-0.3M122.4 1161.2v-0.3M124.0 1161.2v-1.7M125.6 1161.2v-0.4M127.2 1161.2v-0.7M128.8 1161.2v-0.3M130.4 1161.2v-0.5M132.0 1161.2v-0.4M133.6 1161.2v-0.4M135.2 1161.2v-0.6M136.8 1161.2v-0.6M138.4 1161.2v-1.5M140.0 1161.2v-0.8M141.6 1161.2v-1.6M143.2 1161.2v-1.3M144.8 1161.2v-1.9M146.4 1161.2v-0.8M148.0 1161.2v-0.3M149.6 1161.2v-1.3M151.2 1161.2v-1.7M152.8 1161.2v-1.5M154.4 1161.2v-0.6M156.0 1161.2v-0.9M157.6 1161.2v-0.3M159.2 1161.2v-1.2M160.8 1161.2v-0.6M162.4 1161.2v-0.3M164.0 1161.2v-0.3M165.6 1161.2v-1.3M167.2 1161.2v-1.9M168.8 1161.2v-0.3M170.4 1161.2v-1.1M172.0 1161.2v-0.4M173.6 1161.2v-0.3M175.2 1161.2v-0.3M176.8 1161.2v-1.0M178.4 1161.2v-1.4M180.0 1161.2v-0.3M181.6 1161.2v-0.7M183.2 1161.2v-0.3M184.8 1161.2v-0.9M186.4 1161.2v-0.4M188.0 1161.2v-1.4M189.6 1161.2v-1.8M191.2 1161.2v-0.5M192.8 1161.2v-1.9M194.4 1161.2v-0.3M196.0 1161.2v-0.3M197.6 1161.2v-0.6M199.2 1161.2v-0.3M200.8 1161.2v-0.3M202.4 1161.2v-0.4M204.0 1161.2v-0.7M205.6 1161.2v-0.3M207.2 1161.2v-0.3M208.8 1161.2v-1.3M210.4 1161.2v-0.3M212.0 1161.2v-1.7M213.6 1161.2v-1.5M215.2 1161.2v-0.4M216.8 1161.2v-0.5M218.4 1161.2v-0.5M220.0 1161.2v-0.7M221.6 1161.2v-0.6M223.2 1161.2v-0.6M224.8 1161.2v-0.7M226.4 1161.2v-1.6M228.0 1161.2v-0.5M229.6 1161.2v-0.4M231.2 1161.2v-0.9M232.8 1161.2v-0.3M234.4 1161.2v-0.3M236.0 1161.2v-1.8M237.6 1161.2v-0.5M239.2 1161.2v-0.6M240.8 1161.2v-0.3M242.4 1161.2v-0.4M244.0 1161.2v-0.6M245.6 1161.2v-0.3M247.2 1161.2v-0.7M248.8 1161.2v-0.7M250.4 1161.2v-0.3M252.0 1161.2v-0.7M253.6 1161.2v-0.5M255.2 1161.2v-0.8M256.8 1161.2v-0.4M258.4 1161.2v-0.9M260.0 1161.2v-0.9" stroke="#3b62d4" stroke-width="0.5" fill="none" opacity="0.8"/>
<path d="M260.0 1161.2v-0.4M261.6 1161.2v-0.5M263.2 1161.2v-0.6M264.8 1161.2v-0.3M266.4 1161.2v-0.5M268.0 1161.2v-0.7M269.6 1161.2v-0.8M271.2 1161.2v-0.3M272.8 1161.2v-0.5M274.4 1161.2v-0.4M276.0 1161.2v-0.4M277.6 1161.2v-0.8M279.2 1161.2v-0.4M280.8 1161.2v-0.4M282.4 1161.2v-0.8M284.0 1161.2v-0.5M285.6 1161.2v-0.3M287.2 1161.2v-0.3M288.8 1161.2v-0.4M290.4 1161.2v-0.3M292.0 1161.2v-0.4M293.6 1161.2v-0.5M295.2 1161.2v-0.3M296.8 1161.2v-0.7M298.4 1161.2v-0.8M300.0 1161.2v-0.4M301.6 1161.2v-0.5M303.2 1161.2v-0.3M304.8 1161.2v-0.3M306.4 1161.2v-0.9M308.0 1161.2v-0.3M309.6 1161.2v-0.3M311.2 1161.2v-0.7M312.8 1161.2v-0.6M314.4 1161.2v-0.3M316.0 1161.2v-0.3M317.6 1161.2v-0.3M319.2 1161.2v-0.3M320.8 1161.2v-0.3M322.4 1161.2v-0.4M324.0 1161.2v-0.3M325.6 1161.2v-0.3M327.2 1161.2v-0.3M328.8 1161.2v-0.3M330.4 1161.2v-0.3M332.0 1161.2v-0.7M333.6 1161.2v-0.6M335.2 1161.2v-0.4M336.8 1161.2v-0.3M338.4 1161.2v-0.3M340.0 1161.2v-0.3M341.6 1161.2v-0.3M343.2 1161.2v-0.3M344.8 1161.2v-0.3M346.4 1161.2v-0.3M348.0 1161.2v-0.3M349.6 1161.2v-0.5" stroke="#3b62d4" stroke-width="0.5" fill="none" opacity="0.8"/>
<line x1="74.3" y1="1161.2" x2="74.3" y2="1154.0" stroke="#6a8ee6" stroke-width="0.8"/>
<line x1="83.3" y1="1161.2" x2="83.3" y2="1153.3" stroke="#6a8ee6" stroke-width="0.8"/>
<line x1="86.0" y1="1161.2" x2="86.0" y2="1158.0" stroke="#6a8ee6" stroke-width="0.7"/>
<line x1="90.0" y1="1161.2" x2="90.0" y2="1156.0" stroke="#6a8ee6" stroke-width="0.8"/>
<line x1="88.0" y1="1161.2" x2="88.0" y2="1158.5" stroke="#2248c4" stroke-width="0.7"/>
<line x1="100.0" y1="1161.2" x2="100.0" y2="1156.7" stroke="#6a8ee6" stroke-width="0.8"/>
<line x1="101.0" y1="1161.2" x2="101.0" y2="1158.5" stroke="#2248c4" stroke-width="0.7"/>
<line x1="106.3" y1="1161.2" x2="106.3" y2="1151.7" stroke="#2248c4" stroke-width="0.9"/>
<line x1="109.3" y1="1161.2" x2="109.3" y2="1154.0" stroke="#6a8ee6" stroke-width="0.9"/>
<line x1="112.3" y1="1161.2" x2="112.3" y2="1156.0" stroke="#6a8ee6" stroke-width="0.8"/>
<line x1="114.0" y1="1161.2" x2="114.0" y2="1157.5" stroke="#2248c4" stroke-width="0.7"/>
<line x1="116.3" y1="1161.2" x2="116.3" y2="1138.3" stroke="#2248c4" stroke-width="0.9"/>
<line x1="117.3" y1="1161.2" x2="117.3" y2="1150.0" stroke="#6a8ee6" stroke-width="0.8"/>
<line x1="118.5" y1="1161.2" x2="118.5" y2="1133.3" stroke="#2248c4" stroke-width="1.0"/>
<line x1="119.4" y1="1161.2" x2="119.4" y2="1085.0" stroke="#6a8ee6" stroke-width="1.0"/>
<line x1="120.3" y1="1161.2" x2="120.3" y2="1152.0" stroke="#2248c4" stroke-width="0.8"/>
<line x1="122.5" y1="1161.2" x2="122.5" y2="1157.0" stroke="#6a8ee6" stroke-width="0.7"/>
<line x1="124.0" y1="1161.2" x2="124.0" y2="1155.0" stroke="#6a8ee6" stroke-width="0.7"/>
<line x1="125.0" y1="1161.2" x2="125.0" y2="1150.0" stroke="#6a8ee6" stroke-width="0.8"/>
<line x1="126.7" y1="1161.2" x2="126.7" y2="1148.3" stroke="#6a8ee6" stroke-width="0.8"/>
<line x1="127.6" y1="1161.2" x2="127.6" y2="1152.0" stroke="#2248c4" stroke-width="0.8"/>
<line x1="128.4" y1="1161.2" x2="128.4" y2="1041.7" stroke="#6a8ee6" stroke-width="1.0"/>
<line x1="129.2" y1="1161.2" x2="129.2" y2="1133.0" stroke="#2248c4" stroke-width="1.0"/>
<line x1="130.2" y1="1161.2" x2="130.2" y2="1154.0" stroke="#2248c4" stroke-width="0.8"/>
<line x1="134.3" y1="1161.2" x2="134.3" y2="1060.0" stroke="#6a8ee6" stroke-width="1.0"/>
<line x1="135.2" y1="1161.2" x2="135.2" y2="1140.7" stroke="#2248c4" stroke-width="1.0"/>
<line x1="136.2" y1="1161.2" x2="136.2" y2="1155.0" stroke="#2248c4" stroke-width="0.8"/>
<line x1="139.0" y1="1161.2" x2="139.0" y2="1157.0" stroke="#6a8ee6" stroke-width="0.7"/>
<line x1="141.0" y1="1161.2" x2="141.0" y2="1157.0" stroke="#6a8ee6" stroke-width="0.7"/>
<line x1="144.7" y1="1161.2" x2="144.7" y2="1147.7" stroke="#6a8ee6" stroke-width="0.9"/>
<line x1="145.6" y1="1161.2" x2="145.6" y2="1157.0" stroke="#2248c4" stroke-width="0.7"/>
<line x1="155.0" y1="1161.2" x2="155.0" y2="1156.0" stroke="#6a8ee6" stroke-width="0.8"/>
<line x1="156.0" y1="1161.2" x2="156.0" y2="1158.0" stroke="#2248c4" stroke-width="0.8"/>
<line x1="160.0" y1="1161.2" x2="160.0" y2="1158.5" stroke="#6a8ee6" stroke-width="0.7"/>
<line x1="170.0" y1="1161.2" x2="170.0" y2="1131.0" stroke="#6a8ee6" stroke-width="1.0"/>
<line x1="170.9" y1="1161.2" x2="170.9" y2="1152.7" stroke="#2248c4" stroke-width="0.9"/>
<line x1="176.7" y1="1161.2" x2="176.7" y2="1156.7" stroke="#6a8ee6" stroke-width="0.8"/>
<line x1="177.6" y1="1161.2" x2="177.6" y2="1158.5" stroke="#2248c4" stroke-width="0.7"/>
<line x1="185.0" y1="1161.2" x2="185.0" y2="1159.0" stroke="#6a8ee6" stroke-width="0.7"/>
<line x1="192.0" y1="1161.2" x2="192.0" y2="1159.0" stroke="#6a8ee6" stroke-width="0.7"/>
<line x1="199.0" y1="1161.2" x2="199.0" y2="1159.0" stroke="#6a8ee6" stroke-width="0.7"/>
<line x1="207.0" y1="1161.2" x2="207.0" y2="1159.0" stroke="#6a8ee6" stroke-width="0.7"/>
<line x1="217.7" y1="1161.2" x2="217.7" y2="1149.3" stroke="#6a8ee6" stroke-width="0.9"/>
<line x1="218.6" y1="1161.2" x2="218.6" y2="1157.5" stroke="#2248c4" stroke-width="0.8"/>
<line x1="226.7" y1="1161.2" x2="226.7" y2="1153.3" stroke="#6a8ee6" stroke-width="0.9"/>
<line x1="227.7" y1="1161.2" x2="227.7" y2="1156.7" stroke="#2248c4" stroke-width="0.9"/>
<line x1="236.7" y1="1161.2" x2="236.7" y2="1159.0" stroke="#6a8ee6" stroke-width="0.8"/>
<line x1="237.6" y1="1161.2" x2="237.6" y2="1159.5" stroke="#2248c4" stroke-width="0.8"/>
<line x1="119.4" y1="1085.0" x2="114.0" y2="1073.3" stroke="#555" stroke-width="0.6"/>
<line x1="134.4" y1="1060.0" x2="138.3" y2="1052.3" stroke="#555" stroke-width="0.6"/>
<line x1="25.8" y1="1149.5" x2="27.3" y2="1149.5" stroke="#4d4d4d" stroke-width="0.6"/>
<text class="dj" x="24.5" y="1151.3" text-anchor="end" font-size="5.15" fill="#2c2c2c">5.0e3</text>
<line x1="25.8" y1="1137.7" x2="27.3" y2="1137.7" stroke="#4d4d4d" stroke-width="0.6"/>
<text class="dj" x="24.5" y="1139.5" text-anchor="end" font-size="5.15" fill="#2c2c2c">1.0e4</text>
<line x1="25.8" y1="1125.9" x2="27.3" y2="1125.9" stroke="#4d4d4d" stroke-width="0.6"/>
<text class="dj" x="24.5" y="1127.7" text-anchor="end" font-size="5.15" fill="#2c2c2c">1.5e4</text>
<line x1="25.8" y1="1114.1" x2="27.3" y2="1114.1" stroke="#4d4d4d" stroke-width="0.6"/>
<text class="dj" x="24.5" y="1115.9" text-anchor="end" font-size="5.15" fill="#2c2c2c">2.0e4</text>
<line x1="25.8" y1="1102.3" x2="27.3" y2="1102.3" stroke="#4d4d4d" stroke-width="0.6"/>
<text class="dj" x="24.5" y="1104.1" text-anchor="end" font-size="5.15" fill="#2c2c2c">2.5e4</text>
<line x1="25.8" y1="1090.5" x2="27.3" y2="1090.5" stroke="#4d4d4d" stroke-width="0.6"/>
<text class="dj" x="24.5" y="1092.3" text-anchor="end" font-size="5.15" fill="#2c2c2c">3.0e4</text>
<line x1="25.8" y1="1078.7" x2="27.3" y2="1078.7" stroke="#4d4d4d" stroke-width="0.6"/>
<text class="dj" x="24.5" y="1080.5" text-anchor="end" font-size="5.15" fill="#2c2c2c">3.5e4</text>
<line x1="25.8" y1="1066.9" x2="27.3" y2="1066.9" stroke="#4d4d4d" stroke-width="0.6"/>
<text class="dj" x="24.5" y="1068.7" text-anchor="end" font-size="5.15" fill="#2c2c2c">4.0e4</text>
<line x1="25.8" y1="1055.1" x2="27.3" y2="1055.1" stroke="#4d4d4d" stroke-width="0.6"/>
<text class="dj" x="24.5" y="1056.9" text-anchor="end" font-size="5.15" fill="#2c2c2c">4.5e4</text>
<line x1="25.8" y1="1043.3" x2="27.3" y2="1043.3" stroke="#4d4d4d" stroke-width="0.6"/>
<text class="dj" x="24.5" y="1045.1" text-anchor="end" font-size="5.15" fill="#2c2c2c">5.0e4</text>
<line x1="25.8" y1="1031.5" x2="27.3" y2="1031.5" stroke="#4d4d4d" stroke-width="0.6"/>
<text class="dj" x="24.5" y="1033.3" text-anchor="end" font-size="5.15" fill="#2c2c2c">5.5e4</text>
<line x1="37.9" y1="1161.2" x2="37.9" y2="1162.7" stroke="#4d4d4d" stroke-width="0.6"/>
<text class="dj" x="37.9" y="1169.3" text-anchor="middle" font-size="5.15" fill="#2c2c2c">50.0</text>
<line x1="56.2" y1="1161.2" x2="56.2" y2="1162.7" stroke="#4d4d4d" stroke-width="0.6"/>
<text class="dj" x="56.2" y="1169.3" text-anchor="middle" font-size="5.15" fill="#2c2c2c">100.0</text>
<line x1="74.5" y1="1161.2" x2="74.5" y2="1162.7" stroke="#4d4d4d" stroke-width="0.6"/>
<text class="dj" x="74.5" y="1169.3" text-anchor="middle" font-size="5.15" fill="#2c2c2c">150.0</text>
<line x1="92.8" y1="1161.2" x2="92.8" y2="1162.7" stroke="#4d4d4d" stroke-width="0.6"/>
<text class="dj" x="92.8" y="1169.3" text-anchor="middle" font-size="5.15" fill="#2c2c2c">200.0</text>
<line x1="111.1" y1="1161.2" x2="111.1" y2="1162.7" stroke="#4d4d4d" stroke-width="0.6"/>
<text class="dj" x="111.1" y="1169.3" text-anchor="middle" font-size="5.15" fill="#2c2c2c">250.0</text>
<line x1="129.4" y1="1161.2" x2="129.4" y2="1162.7" stroke="#4d4d4d" stroke-width="0.6"/>
<text class="dj" x="129.4" y="1169.3" text-anchor="middle" font-size="5.15" fill="#2c2c2c">300.0</text>
<line x1="147.7" y1="1161.2" x2="147.7" y2="1162.7" stroke="#4d4d4d" stroke-width="0.6"/>
<text class="dj" x="147.7" y="1169.3" text-anchor="middle" font-size="5.15" fill="#2c2c2c">350.0</text>
<line x1="166.0" y1="1161.2" x2="166.0" y2="1162.7" stroke="#4d4d4d" stroke-width="0.6"/>
<text class="dj" x="166.0" y="1169.3" text-anchor="middle" font-size="5.15" fill="#2c2c2c">400.0</text>
<line x1="184.3" y1="1161.2" x2="184.3" y2="1162.7" stroke="#4d4d4d" stroke-width="0.6"/>
<text class="dj" x="184.3" y="1169.3" text-anchor="middle" font-size="5.15" fill="#2c2c2c">450.0</text>
<line x1="202.6" y1="1161.2" x2="202.6" y2="1162.7" stroke="#4d4d4d" stroke-width="0.6"/>
<text class="dj" x="202.6" y="1169.3" text-anchor="middle" font-size="5.15" fill="#2c2c2c">500.0</text>
<line x1="220.9" y1="1161.2" x2="220.9" y2="1162.7" stroke="#4d4d4d" stroke-width="0.6"/>
<text class="dj" x="220.9" y="1169.3" text-anchor="middle" font-size="5.15" fill="#2c2c2c">550.0</text>
<line x1="239.2" y1="1161.2" x2="239.2" y2="1162.7" stroke="#4d4d4d" stroke-width="0.6"/>
<text class="dj" x="239.2" y="1169.3" text-anchor="middle" font-size="5.15" fill="#2c2c2c">600.0</text>
<line x1="257.5" y1="1161.2" x2="257.5" y2="1162.7" stroke="#4d4d4d" stroke-width="0.6"/>
<text class="dj" x="257.5" y="1169.3" text-anchor="middle" font-size="5.15" fill="#2c2c2c">650.0</text>
<line x1="275.8" y1="1161.2" x2="275.8" y2="1162.7" stroke="#4d4d4d" stroke-width="0.6"/>
<text class="dj" x="275.8" y="1169.3" text-anchor="middle" font-size="5.15" fill="#2c2c2c">700.0</text>
<line x1="294.1" y1="1161.2" x2="294.1" y2="1162.7" stroke="#4d4d4d" stroke-width="0.6"/>
<text class="dj" x="294.1" y="1169.3" text-anchor="middle" font-size="5.15" fill="#2c2c2c">750.0</text>
<line x1="312.4" y1="1161.2" x2="312.4" y2="1162.7" stroke="#4d4d4d" stroke-width="0.6"/>
<text class="dj" x="312.4" y="1169.3" text-anchor="middle" font-size="5.15" fill="#2c2c2c">800.0</text>
<line x1="330.7" y1="1161.2" x2="330.7" y2="1162.7" stroke="#4d4d4d" stroke-width="0.6"/>
<text class="dj" x="330.7" y="1169.3" text-anchor="middle" font-size="5.15" fill="#2c2c2c">850.0</text>
<line x1="349.0" y1="1161.2" x2="349.0" y2="1162.7" stroke="#4d4d4d" stroke-width="0.6"/>
<text class="dj" x="349.0" y="1169.3" text-anchor="middle" font-size="5.15" fill="#2c2c2c">900.0</text>
<text x="187.5" y="1175.8" text-anchor="middle" font-size="5.8" fill="#2c2c2c">质荷比[m/z]</text>
<text transform="translate(7,1096) rotate(-90)" text-anchor="middle" font-size="5.4" fill="#2c2c2c">强度</text>
<text x="129.3" y="1040.3" text-anchor="middle" font-size="4.6" fill="#333">297.2606</text>
<text x="142.5" y="1050.6" text-anchor="middle" font-size="4.6" fill="#333">312.2713</text>
<text x="112.3" y="1071.6" text-anchor="middle" font-size="4.6" fill="#333">271.2493</text>
<text class="dj" x="348.5" y="1021.3" text-anchor="end" font-size="5.2" fill="#3b40e0">X:584.2 Y:22941.4</text>
</g>
<g>
<path d="M407.8 1026.5 V1160.2 H732.0" fill="none" stroke="#4d4d4d" stroke-width="1"/>
<line x1="408.4" y1="1160.0" x2="732.0" y2="1160.0" stroke="#3f66d6" stroke-width="1" opacity="0.85"/>
<path d="M411.0 1160.2v-0.3M412.6 1160.2v-0.3M414.2 1160.2v-0.4M415.8 1160.2v-0.3M417.4 1160.2v-0.3M419.0 1160.2v-0.4M420.6 1160.2v-1.4M422.2 1160.2v-1.0M423.8 1160.2v-0.9M425.4 1160.2v-0.3M427.0 1160.2v-0.5M428.6 1160.2v-0.3M430.2 1160.2v-0.3M431.8 1160.2v-0.3M433.4 1160.2v-0.3M435.0 1160.2v-1.4M436.6 1160.2v-1.1M438.2 1160.2v-1.0M439.8 1160.2v-1.0M441.4 1160.2v-0.3M443.0 1160.2v-0.3M444.6 1160.2v-0.6M446.2 1160.2v-0.8M447.8 1160.2v-1.2M449.4 1160.2v-1.3M451.0 1160.2v-0.3M452.6 1160.2v-0.6M454.2 1160.2v-0.7M455.8 1160.2v-0.5M457.4 1160.2v-0.3M459.0 1160.2v-0.4M460.6 1160.2v-0.3M462.2 1160.2v-1.4M463.8 1160.2v-1.2M465.4 1160.2v-0.5M467.0 1160.2v-0.3M468.6 1160.2v-1.4M470.2 1160.2v-0.6M471.8 1160.2v-1.3M473.4 1160.2v-1.2M475.0 1160.2v-0.5M476.6 1160.2v-0.4M478.2 1160.2v-0.6M479.8 1160.2v-0.4M481.4 1160.2v-0.3M483.0 1160.2v-0.3M484.6 1160.2v-1.1M486.2 1160.2v-0.3M487.8 1160.2v-0.3M489.4 1160.2v-0.6M491.0 1160.2v-0.3M492.6 1160.2v-0.5M494.2 1160.2v-0.4M495.8 1160.2v-0.4M497.4 1160.2v-1.7M499.0 1160.2v-0.3M500.6 1160.2v-0.4M502.2 1160.2v-0.3M503.8 1160.2v-0.7M505.4 1160.2v-0.3M507.0 1160.2v-0.4M508.6 1160.2v-0.9M510.2 1160.2v-0.3M511.8 1160.2v-0.5M513.4 1160.2v-1.3M515.0 1160.2v-0.3M516.6 1160.2v-0.3M518.2 1160.2v-0.3M519.8 1160.2v-0.9M521.4 1160.2v-0.6M523.0 1160.2v-0.3M524.6 1160.2v-0.4M526.2 1160.2v-0.3M527.8 1160.2v-0.4M529.4 1160.2v-0.3M531.0 1160.2v-0.8M532.6 1160.2v-1.3M534.2 1160.2v-1.5M535.8 1160.2v-0.9M537.4 1160.2v-1.5M539.0 1160.2v-0.3M540.6 1160.2v-0.3M542.2 1160.2v-1.6M543.8 1160.2v-1.0M545.4 1160.2v-0.4M547.0 1160.2v-1.5M548.6 1160.2v-0.6M550.2 1160.2v-1.1M551.8 1160.2v-0.3M553.4 1160.2v-0.3M555.0 1160.2v-0.4M556.6 1160.2v-0.3M558.2 1160.2v-0.4M559.8 1160.2v-1.5M561.4 1160.2v-0.4M563.0 1160.2v-0.3M564.6 1160.2v-0.3M566.2 1160.2v-0.3M567.8 1160.2v-1.0M569.4 1160.2v-0.4M571.0 1160.2v-0.3M572.6 1160.2v-0.3M574.2 1160.2v-1.6M575.8 1160.2v-0.4M577.4 1160.2v-0.3M579.0 1160.2v-0.3M580.6 1160.2v-0.3M582.2 1160.2v-0.3M583.8 1160.2v-0.7M585.4 1160.2v-0.3M587.0 1160.2v-0.3M588.6 1160.2v-0.5M590.2 1160.2v-0.3M591.8 1160.2v-1.7M593.4 1160.2v-0.3M595.0 1160.2v-0.5M596.6 1160.2v-0.9M598.2 1160.2v-0.4M599.8 1160.2v-1.6M601.4 1160.2v-0.5M603.0 1160.2v-0.3M604.6 1160.2v-0.4M606.2 1160.2v-0.3M607.8 1160.2v-0.4M609.4 1160.2v-0.3M611.0 1160.2v-1.3M612.6 1160.2v-1.1M614.2 1160.2v-0.5M615.8 1160.2v-0.3M617.4 1160.2v-0.3M619.0 1160.2v-0.3M620.6 1160.2v-0.3M622.2 1160.2v-0.3M623.8 1160.2v-1.2M625.4 1160.2v-0.3M627.0 1160.2v-0.3M628.6 1160.2v-1.4M630.2 1160.2v-0.6M631.8 1160.2v-1.7M633.4 1160.2v-0.4M635.0 1160.2v-1.3M636.6 1160.2v-0.7M638.2 1160.2v-1.0M639.8 1160.2v-0.9M641.4 1160.2v-0.5M643.0 1160.2v-0.3M644.6 1160.2v-0.3M646.2 1160.2v-1.2M647.8 1160.2v-1.3M649.4 1160.2v-1.4M651.0 1160.2v-0.4M652.6 1160.2v-0.7M654.2 1160.2v-1.0M655.8 1160.2v-0.7M657.4 1160.2v-1.1M659.0 1160.2v-0.5M660.6 1160.2v-0.7M662.2 1160.2v-0.8M663.8 1160.2v-0.3M665.4 1160.2v-1.4M667.0 1160.2v-1.5M668.6 1160.2v-0.3M670.2 1160.2v-1.6M671.8 1160.2v-1.5M673.4 1160.2v-0.7M675.0 1160.2v-0.3M676.6 1160.2v-1.3M678.2 1160.2v-0.3M679.8 1160.2v-1.6M681.4 1160.2v-0.7M683.0 1160.2v-0.3M684.6 1160.2v-0.3M686.2 1160.2v-0.7M687.8 1160.2v-0.6M689.4 1160.2v-0.9M691.0 1160.2v-1.4M692.6 1160.2v-0.3M694.2 1160.2v-0.3M695.8 1160.2v-1.4M697.4 1160.2v-0.3M699.0 1160.2v-1.2M700.6 1160.2v-0.3M702.2 1160.2v-1.0M703.8 1160.2v-1.0M705.4 1160.2v-1.2M707.0 1160.2v-0.5M708.6 1160.2v-1.2M710.2 1160.2v-0.3M711.8 1160.2v-0.7M713.4 1160.2v-0.4M715.0 1160.2v-1.3M716.6 1160.2v-0.9M718.2 1160.2v-0.4M719.8 1160.2v-0.5M721.4 1160.2v-0.3M723.0 1160.2v-0.3M724.6 1160.2v-0.6M726.2 1160.2v-0.5M727.8 1160.2v-1.2M729.4 1160.2v-0.6" stroke="#3b62d4" stroke-width="0.5" fill="none" opacity="0.8"/>
<line x1="493.5" y1="1160.2" x2="493.5" y2="1157.0" stroke="#6a8ee6" stroke-width="0.8"/>
<line x1="444.0" y1="1160.2" x2="444.0" y2="1158.0" stroke="#6a8ee6" stroke-width="0.7"/>
<line x1="458.0" y1="1160.2" x2="458.0" y2="1158.3" stroke="#6a8ee6" stroke-width="0.7"/>
<line x1="529.0" y1="1160.2" x2="529.0" y2="1124.0" stroke="#6a8ee6" stroke-width="1.0"/>
<line x1="528.2" y1="1160.2" x2="528.2" y2="1150.0" stroke="#2248c4" stroke-width="0.8"/>
<line x1="530.0" y1="1160.2" x2="530.0" y2="1150.7" stroke="#2248c4" stroke-width="0.9"/>
<line x1="531.0" y1="1160.2" x2="531.0" y2="1154.0" stroke="#6a8ee6" stroke-width="0.8"/>
<line x1="553.2" y1="1160.2" x2="553.2" y2="1152.0" stroke="#2248c4" stroke-width="0.8"/>
<line x1="554.0" y1="1160.2" x2="554.0" y2="1074.7" stroke="#6a8ee6" stroke-width="1.0"/>
<line x1="554.8" y1="1160.2" x2="554.8" y2="1140.0" stroke="#2248c4" stroke-width="0.9"/>
<line x1="555.5" y1="1160.2" x2="555.5" y2="1114.7" stroke="#6a8ee6" stroke-width="0.9"/>
<line x1="556.3" y1="1160.2" x2="556.3" y2="1149.0" stroke="#2248c4" stroke-width="0.9"/>
<line x1="557.2" y1="1160.2" x2="557.2" y2="1153.0" stroke="#6a8ee6" stroke-width="0.8"/>
<line x1="573.3" y1="1160.2" x2="573.3" y2="1150.0" stroke="#2248c4" stroke-width="0.8"/>
<line x1="574.0" y1="1160.2" x2="574.0" y2="1100.0" stroke="#6a8ee6" stroke-width="1.0"/>
<line x1="574.7" y1="1160.2" x2="574.7" y2="1140.0" stroke="#2248c4" stroke-width="1.0"/>
<line x1="575.4" y1="1160.2" x2="575.4" y2="1125.0" stroke="#6a8ee6" stroke-width="0.9"/>
<line x1="576.3" y1="1160.2" x2="576.3" y2="1152.0" stroke="#2248c4" stroke-width="0.8"/>
<line x1="577.2" y1="1160.2" x2="577.2" y2="1155.0" stroke="#6a8ee6" stroke-width="0.8"/>
<line x1="585.2" y1="1160.2" x2="585.2" y2="1150.0" stroke="#2248c4" stroke-width="0.9"/>
<line x1="586.0" y1="1160.2" x2="586.0" y2="1121.0" stroke="#2248c4" stroke-width="1.0"/>
<line x1="586.8" y1="1160.2" x2="586.8" y2="1036.5" stroke="#6a8ee6" stroke-width="1.1"/>
<line x1="587.5" y1="1160.2" x2="587.5" y2="1118.0" stroke="#2248c4" stroke-width="1.0"/>
<line x1="588.2" y1="1160.2" x2="588.2" y2="1085.3" stroke="#6a8ee6" stroke-width="1.0"/>
<line x1="588.9" y1="1160.2" x2="588.9" y2="1126.0" stroke="#2248c4" stroke-width="1.0"/>
<line x1="589.6" y1="1160.2" x2="589.6" y2="1140.0" stroke="#2248c4" stroke-width="0.9"/>
<line x1="590.4" y1="1160.2" x2="590.4" y2="1152.0" stroke="#6a8ee6" stroke-width="0.8"/>
<line x1="597.5" y1="1160.2" x2="597.5" y2="1157.3" stroke="#6a8ee6" stroke-width="0.9"/>
<line x1="598.5" y1="1160.2" x2="598.5" y2="1157.8" stroke="#2248c4" stroke-width="0.8"/>
<line x1="563.0" y1="1160.2" x2="563.0" y2="1158.0" stroke="#6a8ee6" stroke-width="0.7"/>
<line x1="566.0" y1="1160.2" x2="566.0" y2="1157.5" stroke="#6a8ee6" stroke-width="0.7"/>
<line x1="610.0" y1="1160.2" x2="610.0" y2="1158.5" stroke="#6a8ee6" stroke-width="0.7"/>
<line x1="588.2" y1="1085.3" x2="594.5" y2="1077.5" stroke="#555" stroke-width="0.6"/>
<line x1="555.5" y1="1114.7" x2="558.5" y2="1109.5" stroke="#555" stroke-width="0.6"/>
<line x1="575.4" y1="1125.0" x2="579.3" y2="1118.5" stroke="#555" stroke-width="0.6"/>
<line x1="406.3" y1="1160.2" x2="407.8" y2="1160.2" stroke="#4d4d4d" stroke-width="0.6"/>
<text class="dj" x="405.0" y="1162.0" text-anchor="end" font-size="5.15" fill="#2c2c2c">0.0e0</text>
<line x1="406.3" y1="1154.1" x2="407.8" y2="1154.1" stroke="#4d4d4d" stroke-width="0.6"/>
<text class="dj" x="405.0" y="1155.9" text-anchor="end" font-size="5.15" fill="#2c2c2c">5.0e4</text>
<line x1="406.3" y1="1148.0" x2="407.8" y2="1148.0" stroke="#4d4d4d" stroke-width="0.6"/>
<text class="dj" x="405.0" y="1149.8" text-anchor="end" font-size="5.15" fill="#2c2c2c">1.0e5</text>
<line x1="406.3" y1="1142.0" x2="407.8" y2="1142.0" stroke="#4d4d4d" stroke-width="0.6"/>
<text class="dj" x="405.0" y="1143.8" text-anchor="end" font-size="5.15" fill="#2c2c2c">1.5e5</text>
<line x1="406.3" y1="1135.9" x2="407.8" y2="1135.9" stroke="#4d4d4d" stroke-width="0.6"/>
<text class="dj" x="405.0" y="1137.7" text-anchor="end" font-size="5.15" fill="#2c2c2c">2.0e5</text>
<line x1="406.3" y1="1129.8" x2="407.8" y2="1129.8" stroke="#4d4d4d" stroke-width="0.6"/>
<text class="dj" x="405.0" y="1131.6" text-anchor="end" font-size="5.15" fill="#2c2c2c">2.5e5</text>
<line x1="406.3" y1="1123.7" x2="407.8" y2="1123.7" stroke="#4d4d4d" stroke-width="0.6"/>
<text class="dj" x="405.0" y="1125.5" text-anchor="end" font-size="5.15" fill="#2c2c2c">3.0e5</text>
<line x1="406.3" y1="1117.7" x2="407.8" y2="1117.7" stroke="#4d4d4d" stroke-width="0.6"/>
<text class="dj" x="405.0" y="1119.5" text-anchor="end" font-size="5.15" fill="#2c2c2c">3.5e5</text>
<line x1="406.3" y1="1111.6" x2="407.8" y2="1111.6" stroke="#4d4d4d" stroke-width="0.6"/>
<text class="dj" x="405.0" y="1113.4" text-anchor="end" font-size="5.15" fill="#2c2c2c">4.0e5</text>
<line x1="406.3" y1="1105.5" x2="407.8" y2="1105.5" stroke="#4d4d4d" stroke-width="0.6"/>
<text class="dj" x="405.0" y="1107.3" text-anchor="end" font-size="5.15" fill="#2c2c2c">4.5e5</text>
<line x1="406.3" y1="1099.4" x2="407.8" y2="1099.4" stroke="#4d4d4d" stroke-width="0.6"/>
<text class="dj" x="405.0" y="1101.2" text-anchor="end" font-size="5.15" fill="#2c2c2c">5.0e5</text>
<line x1="406.3" y1="1093.3" x2="407.8" y2="1093.3" stroke="#4d4d4d" stroke-width="0.6"/>
<text class="dj" x="405.0" y="1095.1" text-anchor="end" font-size="5.15" fill="#2c2c2c">5.5e5</text>
<line x1="406.3" y1="1087.3" x2="407.8" y2="1087.3" stroke="#4d4d4d" stroke-width="0.6"/>
<text class="dj" x="405.0" y="1089.1" text-anchor="end" font-size="5.15" fill="#2c2c2c">6.0e5</text>
<line x1="406.3" y1="1081.2" x2="407.8" y2="1081.2" stroke="#4d4d4d" stroke-width="0.6"/>
<text class="dj" x="405.0" y="1083.0" text-anchor="end" font-size="5.15" fill="#2c2c2c">6.5e5</text>
<line x1="406.3" y1="1075.1" x2="407.8" y2="1075.1" stroke="#4d4d4d" stroke-width="0.6"/>
<text class="dj" x="405.0" y="1076.9" text-anchor="end" font-size="5.15" fill="#2c2c2c">7.0e5</text>
<line x1="406.3" y1="1069.0" x2="407.8" y2="1069.0" stroke="#4d4d4d" stroke-width="0.6"/>
<text class="dj" x="405.0" y="1070.8" text-anchor="end" font-size="5.15" fill="#2c2c2c">7.5e5</text>
<line x1="406.3" y1="1063.0" x2="407.8" y2="1063.0" stroke="#4d4d4d" stroke-width="0.6"/>
<text class="dj" x="405.0" y="1064.8" text-anchor="end" font-size="5.15" fill="#2c2c2c">8.0e5</text>
<line x1="406.3" y1="1056.9" x2="407.8" y2="1056.9" stroke="#4d4d4d" stroke-width="0.6"/>
<text class="dj" x="405.0" y="1058.7" text-anchor="end" font-size="5.15" fill="#2c2c2c">8.5e5</text>
<line x1="406.3" y1="1050.8" x2="407.8" y2="1050.8" stroke="#4d4d4d" stroke-width="0.6"/>
<text class="dj" x="405.0" y="1052.6" text-anchor="end" font-size="5.15" fill="#2c2c2c">9.0e5</text>
<line x1="406.3" y1="1044.7" x2="407.8" y2="1044.7" stroke="#4d4d4d" stroke-width="0.6"/>
<text class="dj" x="405.0" y="1046.5" text-anchor="end" font-size="5.15" fill="#2c2c2c">9.5e5</text>
<line x1="406.3" y1="1038.7" x2="407.8" y2="1038.7" stroke="#4d4d4d" stroke-width="0.6"/>
<text class="dj" x="405.0" y="1040.5" text-anchor="end" font-size="5.15" fill="#2c2c2c">1.0e6</text>
<line x1="406.3" y1="1032.6" x2="407.8" y2="1032.6" stroke="#4d4d4d" stroke-width="0.6"/>
<text class="dj" x="405.0" y="1034.4" text-anchor="end" font-size="5.15" fill="#2c2c2c">1.1e6</text>
<line x1="406.3" y1="1026.5" x2="407.8" y2="1026.5" stroke="#4d4d4d" stroke-width="0.6"/>
<text class="dj" x="405.0" y="1028.3" text-anchor="end" font-size="5.15" fill="#2c2c2c">1.1e6</text>
<line x1="412.3" y1="1160.2" x2="412.3" y2="1161.7" stroke="#4d4d4d" stroke-width="0.6"/>
<text class="dj" x="412.3" y="1168.3" text-anchor="middle" font-size="5.15" fill="#2c2c2c">50.0</text>
<line x1="447.8" y1="1160.2" x2="447.8" y2="1161.7" stroke="#4d4d4d" stroke-width="0.6"/>
<text class="dj" x="447.8" y="1168.3" text-anchor="middle" font-size="5.15" fill="#2c2c2c">100.0</text>
<line x1="483.3" y1="1160.2" x2="483.3" y2="1161.7" stroke="#4d4d4d" stroke-width="0.6"/>
<text class="dj" x="483.3" y="1168.3" text-anchor="middle" font-size="5.15" fill="#2c2c2c">150.0</text>
<line x1="518.9" y1="1160.2" x2="518.9" y2="1161.7" stroke="#4d4d4d" stroke-width="0.6"/>
<text class="dj" x="518.9" y="1168.3" text-anchor="middle" font-size="5.15" fill="#2c2c2c">200.0</text>
<line x1="554.4" y1="1160.2" x2="554.4" y2="1161.7" stroke="#4d4d4d" stroke-width="0.6"/>
<text class="dj" x="554.4" y="1168.3" text-anchor="middle" font-size="5.15" fill="#2c2c2c">250.0</text>
<line x1="589.9" y1="1160.2" x2="589.9" y2="1161.7" stroke="#4d4d4d" stroke-width="0.6"/>
<text class="dj" x="589.9" y="1168.3" text-anchor="middle" font-size="5.15" fill="#2c2c2c">300.0</text>
<line x1="625.4" y1="1160.2" x2="625.4" y2="1161.7" stroke="#4d4d4d" stroke-width="0.6"/>
<text class="dj" x="625.4" y="1168.3" text-anchor="middle" font-size="5.15" fill="#2c2c2c">350.0</text>
<line x1="660.9" y1="1160.2" x2="660.9" y2="1161.7" stroke="#4d4d4d" stroke-width="0.6"/>
<text class="dj" x="660.9" y="1168.3" text-anchor="middle" font-size="5.15" fill="#2c2c2c">400.0</text>
<line x1="696.5" y1="1160.2" x2="696.5" y2="1161.7" stroke="#4d4d4d" stroke-width="0.6"/>
<text class="dj" x="696.5" y="1168.3" text-anchor="middle" font-size="5.15" fill="#2c2c2c">450.0</text>
<line x1="732.0" y1="1160.2" x2="732.0" y2="1161.7" stroke="#4d4d4d" stroke-width="0.6"/>
<text class="dj" x="732.0" y="1168.3" text-anchor="middle" font-size="5.15" fill="#2c2c2c">500.0</text>
<text x="569.5" y="1174.8" text-anchor="middle" font-size="5.8" fill="#2c2c2c">质荷比[m/z]</text>
<text transform="translate(387.2,1093.3) rotate(-90)" text-anchor="middle" font-size="5.4" fill="#2c2c2c">强度</text>
<text x="586.0" y="1034.4" text-anchor="middle" font-size="4.6" fill="#333">295.9991</text>
<text x="598.0" y="1075.6" text-anchor="middle" font-size="4.6" fill="#333">298.0039</text>
<text x="554.0" y="1072.3" text-anchor="middle" font-size="4.6" fill="#333">249.9991</text>
<text x="556.0" y="1107.6" text-anchor="middle" font-size="4.6" fill="#333">251.9921</text>
<text x="573.5" y="1098.1" text-anchor="middle" font-size="4.6" fill="#333">277.9688</text>
<text x="579.0" y="1116.6" text-anchor="middle" font-size="4.6" fill="#333">279.9650</text>
<text x="529.2" y="1122.1" text-anchor="middle" font-size="4.6" fill="#333">215.0355</text>
<text class="dj" x="730.8" y="1022.3" text-anchor="end" font-size="5.2" fill="#3b40e0">X:0 Y:0</text>
</g>
<g>
<text class="dj" x="16.0" y="1342.8" font-size="6" font-weight="bold" fill="#222">MASS</text>
<text class="dj" x="15.4" y="1355.9" font-size="5" fill="#444" textLength="151.8" lengthAdjust="spacingAndGlyphs">质谱图-1_7#298;TAPI-1000-TOFMS+Positive,Rt:2.475;</text>
<rect x="62.7" y="1360.2" width="294.5" height="102.8" fill="none" stroke="#d6d6d6" stroke-width="0.8"/>
<line x1="165.2" y1="1463.0" x2="165.2" y2="1421.3" stroke="#757575" stroke-width="0.9"/>
<line x1="166.2" y1="1463.0" x2="166.2" y2="1461.0" stroke="#383838" stroke-width="0.9"/>
<line x1="310.0" y1="1463.0" x2="310.0" y2="1372.5" stroke="#757575" stroke-width="0.9"/>
<line x1="311.5" y1="1463.0" x2="311.5" y2="1451.5" stroke="#757575" stroke-width="0.8"/>
<line x1="311.0" y1="1463.0" x2="311.0" y2="1459.0" stroke="#383838" stroke-width="1.2"/>
<line x1="77.0" y1="1463.0" x2="77.0" y2="1462.0" stroke="#757575" stroke-width="0.7"/>
<line x1="112.0" y1="1463.0" x2="112.0" y2="1462.3" stroke="#757575" stroke-width="0.7"/>
<line x1="200.5" y1="1463.0" x2="200.5" y2="1461.5" stroke="#757575" stroke-width="0.7"/>
<line x1="274.0" y1="1463.0" x2="274.0" y2="1462.3" stroke="#757575" stroke-width="0.7"/>
<line x1="345.0" y1="1463.0" x2="345.0" y2="1462.3" stroke="#757575" stroke-width="0.7"/>
<path d="M62.7 1360.2 V1463.0 H357.2" fill="none" stroke="#3a3a3a" stroke-width="0.9"/>
<line x1="60.9" y1="1464.1" x2="62.7" y2="1464.1" stroke="#3a3a3a" stroke-width="0.6"/>
<text class="dj" x="59.5" y="1466.1" text-anchor="end" font-size="5.55" fill="#2c2c2c">0.0e0</text>
<line x1="60.9" y1="1440.9" x2="62.7" y2="1440.9" stroke="#3a3a3a" stroke-width="0.6"/>
<text class="dj" x="59.5" y="1442.9" text-anchor="end" font-size="5.55" fill="#2c2c2c">4.0e5</text>
<line x1="60.9" y1="1417.7" x2="62.7" y2="1417.7" stroke="#3a3a3a" stroke-width="0.6"/>
<text class="dj" x="59.5" y="1419.7" text-anchor="end" font-size="5.55" fill="#2c2c2c">8.0e5</text>
<line x1="60.9" y1="1394.6" x2="62.7" y2="1394.6" stroke="#3a3a3a" stroke-width="0.6"/>
<text class="dj" x="59.5" y="1396.6" text-anchor="end" font-size="5.55" fill="#2c2c2c">1.2e6</text>
<line x1="60.9" y1="1371.4" x2="62.7" y2="1371.4" stroke="#3a3a3a" stroke-width="0.6"/>
<text class="dj" x="59.5" y="1373.4" text-anchor="end" font-size="5.55" fill="#2c2c2c">1.6e6</text>
<line x1="62.8" y1="1463.0" x2="62.8" y2="1464.8" stroke="#3a3a3a" stroke-width="0.6"/>
<text class="dj" x="62.8" y="1473.2" text-anchor="middle" font-size="5.3" fill="#2c2c2c">100.0</text>
<line x1="82.5" y1="1463.0" x2="82.5" y2="1464.8" stroke="#3a3a3a" stroke-width="0.6"/>
<text class="dj" x="82.5" y="1473.2" text-anchor="middle" font-size="5.3" fill="#2c2c2c">110.0</text>
<line x1="102.1" y1="1463.0" x2="102.1" y2="1464.8" stroke="#3a3a3a" stroke-width="0.6"/>
<text class="dj" x="102.1" y="1473.2" text-anchor="middle" font-size="5.3" fill="#2c2c2c">120.0</text>
<line x1="121.8" y1="1463.0" x2="121.8" y2="1464.8" stroke="#3a3a3a" stroke-width="0.6"/>
<text class="dj" x="121.8" y="1473.2" text-anchor="middle" font-size="5.3" fill="#2c2c2c">130.0</text>
<line x1="141.4" y1="1463.0" x2="141.4" y2="1464.8" stroke="#3a3a3a" stroke-width="0.6"/>
<text class="dj" x="141.4" y="1473.2" text-anchor="middle" font-size="5.3" fill="#2c2c2c">140.0</text>
<line x1="161.1" y1="1463.0" x2="161.1" y2="1464.8" stroke="#3a3a3a" stroke-width="0.6"/>
<text class="dj" x="161.1" y="1473.2" text-anchor="middle" font-size="5.3" fill="#2c2c2c">150.0</text>
<line x1="180.8" y1="1463.0" x2="180.8" y2="1464.8" stroke="#3a3a3a" stroke-width="0.6"/>
<text class="dj" x="180.8" y="1473.2" text-anchor="middle" font-size="5.3" fill="#2c2c2c">160.0</text>
<line x1="200.4" y1="1463.0" x2="200.4" y2="1464.8" stroke="#3a3a3a" stroke-width="0.6"/>
<text class="dj" x="200.4" y="1473.2" text-anchor="middle" font-size="5.3" fill="#2c2c2c">170.0</text>
<line x1="220.1" y1="1463.0" x2="220.1" y2="1464.8" stroke="#3a3a3a" stroke-width="0.6"/>
<text class="dj" x="220.1" y="1473.2" text-anchor="middle" font-size="5.3" fill="#2c2c2c">180.0</text>
<line x1="239.7" y1="1463.0" x2="239.7" y2="1464.8" stroke="#3a3a3a" stroke-width="0.6"/>
<text class="dj" x="239.7" y="1473.2" text-anchor="middle" font-size="5.3" fill="#2c2c2c">190.0</text>
<line x1="259.4" y1="1463.0" x2="259.4" y2="1464.8" stroke="#3a3a3a" stroke-width="0.6"/>
<text class="dj" x="259.4" y="1473.2" text-anchor="middle" font-size="5.3" fill="#2c2c2c">200.0</text>
<line x1="279.1" y1="1463.0" x2="279.1" y2="1464.8" stroke="#3a3a3a" stroke-width="0.6"/>
<text class="dj" x="279.1" y="1473.2" text-anchor="middle" font-size="5.3" fill="#2c2c2c">210.0</text>
<line x1="298.7" y1="1463.0" x2="298.7" y2="1464.8" stroke="#3a3a3a" stroke-width="0.6"/>
<text class="dj" x="298.7" y="1473.2" text-anchor="middle" font-size="5.3" fill="#2c2c2c">220.0</text>
<line x1="318.4" y1="1463.0" x2="318.4" y2="1464.8" stroke="#3a3a3a" stroke-width="0.6"/>
<text class="dj" x="318.4" y="1473.2" text-anchor="middle" font-size="5.3" fill="#2c2c2c">230.0</text>
<line x1="338.0" y1="1463.0" x2="338.0" y2="1464.8" stroke="#3a3a3a" stroke-width="0.6"/>
<text class="dj" x="338.0" y="1473.2" text-anchor="middle" font-size="5.3" fill="#2c2c2c">240.0</text>
<line x1="357.7" y1="1463.0" x2="357.7" y2="1464.8" stroke="#3a3a3a" stroke-width="0.6"/>
<text class="dj" x="357.7" y="1473.2" text-anchor="middle" font-size="5.3" fill="#2c2c2c">250.0</text>
<text x="209.4" y="1479.2" text-anchor="middle" font-size="5.2" font-style="italic" fill="#2c2c2c">m/z</text>
<text transform="translate(18.0,1412.1) rotate(-90)" text-anchor="middle" font-size="5.6" fill="#2c2c2c">强度</text>
<text x="165.2" y="1414.5" text-anchor="middle" font-size="6.15" fill="#e8232a">Mass:152.0642</text>
<text x="310.0" y="1368.6" text-anchor="middle" font-size="6.15" fill="#e8232a">Mass:226.1411</text>
</g>
<path d="M165.2 1421.3V1425.8M310 1372.5V1377" stroke="#e8232a" stroke-width="0.9"/>
<g>
<text class="dj" x="385.0" y="1342.8" font-size="6" font-weight="bold" fill="#222">MASS</text>
<text class="dj" x="384.4" y="1355.9" font-size="5" fill="#444" textLength="151.8" lengthAdjust="spacingAndGlyphs">质谱图-1_8#144;TAPI-1000-TOFMS+Positive,Rt:1.192;</text>
<rect x="431.8" y="1360.2" width="294.8" height="102.5" fill="none" stroke="#d6d6d6" stroke-width="0.8"/>
<line x1="479.5" y1="1462.7" x2="479.5" y2="1457.5" stroke="#757575" stroke-width="0.8"/>
<line x1="535.0" y1="1462.7" x2="535.0" y2="1437.5" stroke="#757575" stroke-width="0.9"/>
<line x1="536.0" y1="1462.7" x2="536.0" y2="1459.0" stroke="#383838" stroke-width="0.9"/>
<line x1="537.5" y1="1462.7" x2="537.5" y2="1457.0" stroke="#757575" stroke-width="0.8"/>
<line x1="583.5" y1="1462.7" x2="583.5" y2="1443.5" stroke="#757575" stroke-width="0.9"/>
<line x1="584.5" y1="1462.7" x2="584.5" y2="1459.0" stroke="#383838" stroke-width="0.9"/>
<line x1="586.0" y1="1462.7" x2="586.0" y2="1460.5" stroke="#757575" stroke-width="0.7"/>
<line x1="617.0" y1="1462.7" x2="617.0" y2="1451.5" stroke="#757575" stroke-width="0.9"/>
<line x1="618.0" y1="1462.7" x2="618.0" y2="1459.5" stroke="#383838" stroke-width="0.9"/>
<line x1="619.5" y1="1462.7" x2="619.5" y2="1460.5" stroke="#757575" stroke-width="0.7"/>
<line x1="638.5" y1="1462.7" x2="638.5" y2="1374.0" stroke="#757575" stroke-width="1.0"/>
<line x1="639.5" y1="1462.7" x2="639.5" y2="1450.0" stroke="#383838" stroke-width="1.0"/>
<line x1="641.0" y1="1462.7" x2="641.0" y2="1436.0" stroke="#757575" stroke-width="0.9"/>
<line x1="642.0" y1="1462.7" x2="642.0" y2="1457.0" stroke="#383838" stroke-width="0.9"/>
<line x1="653.5" y1="1462.7" x2="653.5" y2="1458.5" stroke="#757575" stroke-width="0.8"/>
<line x1="683.0" y1="1462.7" x2="683.0" y2="1461.0" stroke="#757575" stroke-width="0.7"/>
<line x1="452.0" y1="1462.7" x2="452.0" y2="1461.5" stroke="#757575" stroke-width="0.7"/>
<line x1="705.0" y1="1462.7" x2="705.0" y2="1461.5" stroke="#757575" stroke-width="0.7"/>
<path d="M431.8 1360.2 V1462.7 H726.6" fill="none" stroke="#3a3a3a" stroke-width="0.9"/>
<line x1="430.0" y1="1462.9" x2="431.8" y2="1462.9" stroke="#3a3a3a" stroke-width="0.6"/>
<text class="dj" x="428.6" y="1464.9" text-anchor="end" font-size="5.55" fill="#2c2c2c">0.0e0</text>
<line x1="430.0" y1="1442.7" x2="431.8" y2="1442.7" stroke="#3a3a3a" stroke-width="0.6"/>
<text class="dj" x="428.6" y="1444.7" text-anchor="end" font-size="5.55" fill="#2c2c2c">2.0e5</text>
<line x1="430.0" y1="1422.6" x2="431.8" y2="1422.6" stroke="#3a3a3a" stroke-width="0.6"/>
<text class="dj" x="428.6" y="1424.6" text-anchor="end" font-size="5.55" fill="#2c2c2c">4.0e5</text>
<line x1="430.0" y1="1402.4" x2="431.8" y2="1402.4" stroke="#3a3a3a" stroke-width="0.6"/>
<text class="dj" x="428.6" y="1404.4" text-anchor="end" font-size="5.55" fill="#2c2c2c">6.0e5</text>
<line x1="430.0" y1="1382.3" x2="431.8" y2="1382.3" stroke="#3a3a3a" stroke-width="0.6"/>
<text class="dj" x="428.6" y="1384.3" text-anchor="end" font-size="5.55" fill="#2c2c2c">8.0e5</text>
<line x1="430.0" y1="1362.1" x2="431.8" y2="1362.1" stroke="#3a3a3a" stroke-width="0.6"/>
<text class="dj" x="428.6" y="1364.1" text-anchor="end" font-size="5.55" fill="#2c2c2c">1.0e6</text>
<line x1="444.6" y1="1462.7" x2="444.6" y2="1464.5" stroke="#3a3a3a" stroke-width="0.6"/>
<text class="dj" x="444.6" y="1472.9" text-anchor="middle" font-size="5.3" fill="#2c2c2c">160.0</text>
<line x1="468.1" y1="1462.7" x2="468.1" y2="1464.5" stroke="#3a3a3a" stroke-width="0.6"/>
<text class="dj" x="468.1" y="1472.9" text-anchor="middle" font-size="5.3" fill="#2c2c2c">180.0</text>
<line x1="491.7" y1="1462.7" x2="491.7" y2="1464.5" stroke="#3a3a3a" stroke-width="0.6"/>
<text class="dj" x="491.7" y="1472.9" text-anchor="middle" font-size="5.3" fill="#2c2c2c">200.0</text>
<line x1="515.2" y1="1462.7" x2="515.2" y2="1464.5" stroke="#3a3a3a" stroke-width="0.6"/>
<text class="dj" x="515.2" y="1472.9" text-anchor="middle" font-size="5.3" fill="#2c2c2c">220.0</text>
<line x1="538.7" y1="1462.7" x2="538.7" y2="1464.5" stroke="#3a3a3a" stroke-width="0.6"/>
<text class="dj" x="538.7" y="1472.9" text-anchor="middle" font-size="5.3" fill="#2c2c2c">240.0</text>
<line x1="562.2" y1="1462.7" x2="562.2" y2="1464.5" stroke="#3a3a3a" stroke-width="0.6"/>
<text class="dj" x="562.2" y="1472.9" text-anchor="middle" font-size="5.3" fill="#2c2c2c">260.0</text>
<line x1="585.8" y1="1462.7" x2="585.8" y2="1464.5" stroke="#3a3a3a" stroke-width="0.6"/>
<text class="dj" x="585.8" y="1472.9" text-anchor="middle" font-size="5.3" fill="#2c2c2c">280.0</text>
<line x1="609.3" y1="1462.7" x2="609.3" y2="1464.5" stroke="#3a3a3a" stroke-width="0.6"/>
<text class="dj" x="609.3" y="1472.9" text-anchor="middle" font-size="5.3" fill="#2c2c2c">300.0</text>
<line x1="632.8" y1="1462.7" x2="632.8" y2="1464.5" stroke="#3a3a3a" stroke-width="0.6"/>
<text class="dj" x="632.8" y="1472.9" text-anchor="middle" font-size="5.3" fill="#2c2c2c">320.0</text>
<line x1="656.4" y1="1462.7" x2="656.4" y2="1464.5" stroke="#3a3a3a" stroke-width="0.6"/>
<text class="dj" x="656.4" y="1472.9" text-anchor="middle" font-size="5.3" fill="#2c2c2c">340.0</text>
<line x1="679.9" y1="1462.7" x2="679.9" y2="1464.5" stroke="#3a3a3a" stroke-width="0.6"/>
<text class="dj" x="679.9" y="1472.9" text-anchor="middle" font-size="5.3" fill="#2c2c2c">360.0</text>
<line x1="703.4" y1="1462.7" x2="703.4" y2="1464.5" stroke="#3a3a3a" stroke-width="0.6"/>
<text class="dj" x="703.4" y="1472.9" text-anchor="middle" font-size="5.3" fill="#2c2c2c">380.0</text>
<line x1="727.0" y1="1462.7" x2="727.0" y2="1464.5" stroke="#3a3a3a" stroke-width="0.6"/>
<text class="dj" x="727.0" y="1472.9" text-anchor="middle" font-size="5.3" fill="#2c2c2c">400.0</text>
<text x="578.7" y="1478.9" text-anchor="middle" font-size="5.2" font-style="italic" fill="#2c2c2c">m/z</text>
<text transform="translate(388.0,1412.0) rotate(-90)" text-anchor="middle" font-size="5.6" fill="#2c2c2c">强度</text>
<text x="638.5" y="1370.1" text-anchor="middle" font-size="6.15" fill="#e8232a">Mass:325.1107</text>
<text x="535.0" y="1433.6" text-anchor="middle" font-size="6.15" fill="#e8232a">Mass:237.0382</text>
<text x="584.0" y="1439.1" text-anchor="middle" font-size="6.15" fill="#e8232a">Mass:278.0599</text>
</g>
<path d="M638.5 1374V1378.5M535 1437.5V1442M583.5 1443.5V1448" stroke="#e8232a" stroke-width="0.9"/>
<g>
<text class="dj" x="16.0" y="1542.8" font-size="6" font-weight="bold" fill="#222">MASS</text>
<text class="dj" x="15.4" y="1555.9" font-size="5" fill="#444" textLength="148.5" lengthAdjust="spacingAndGlyphs">质谱图-1_6#72;TAPI-1000-TOFMS+Positive,Rt:0.592;</text>
<rect x="62.7" y="1560.2" width="294.5" height="103.0" fill="none" stroke="#d6d6d6" stroke-width="0.8"/>
<line x1="96.0" y1="1663.2" x2="96.0" y2="1657.5" stroke="#757575" stroke-width="0.8"/>
<line x1="98.0" y1="1663.2" x2="98.0" y2="1657.5" stroke="#757575" stroke-width="0.8"/>
<line x1="141.5" y1="1663.2" x2="141.5" y2="1654.0" stroke="#757575" stroke-width="0.8"/>
<line x1="166.5" y1="1663.2" x2="166.5" y2="1620.0" stroke="#757575" stroke-width="0.9"/>
<line x1="170.5" y1="1663.2" x2="170.5" y2="1637.5" stroke="#757575" stroke-width="0.9"/>
<line x1="174.5" y1="1663.2" x2="174.5" y2="1660.0" stroke="#757575" stroke-width="0.8"/>
<line x1="167.5" y1="1663.2" x2="167.5" y2="1660.5" stroke="#383838" stroke-width="0.8"/>
<line x1="246.5" y1="1663.2" x2="246.5" y2="1659.0" stroke="#757575" stroke-width="0.9"/>
<line x1="248.0" y1="1663.2" x2="248.0" y2="1661.0" stroke="#383838" stroke-width="0.8"/>
<line x1="276.5" y1="1663.2" x2="276.5" y2="1604.0" stroke="#757575" stroke-width="0.9"/>
<line x1="277.5" y1="1663.2" x2="277.5" y2="1657.0" stroke="#383838" stroke-width="0.9"/>
<line x1="279.5" y1="1663.2" x2="279.5" y2="1652.0" stroke="#383838" stroke-width="0.9"/>
<line x1="280.5" y1="1663.2" x2="280.5" y2="1630.0" stroke="#383838" stroke-width="1.1"/>
<line x1="281.6" y1="1663.2" x2="281.6" y2="1656.0" stroke="#757575" stroke-width="0.8"/>
<line x1="283.0" y1="1663.2" x2="283.0" y2="1657.5" stroke="#383838" stroke-width="0.9"/>
<line x1="284.3" y1="1663.2" x2="284.3" y2="1658.5" stroke="#757575" stroke-width="0.8"/>
<line x1="311.5" y1="1663.2" x2="311.5" y2="1574.0" stroke="#757575" stroke-width="1.0"/>
<line x1="312.5" y1="1663.2" x2="312.5" y2="1655.0" stroke="#383838" stroke-width="0.9"/>
<line x1="314.0" y1="1663.2" x2="314.0" y2="1652.5" stroke="#383838" stroke-width="0.9"/>
<line x1="315.2" y1="1663.2" x2="315.2" y2="1615.0" stroke="#383838" stroke-width="1.0"/>
<line x1="316.0" y1="1663.2" x2="316.0" y2="1608.5" stroke="#383838" stroke-width="1.3"/>
<line x1="317.2" y1="1663.2" x2="317.2" y2="1656.0" stroke="#383838" stroke-width="0.9"/>
<line x1="318.5" y1="1663.2" x2="318.5" y2="1655.0" stroke="#383838" stroke-width="0.9"/>
<line x1="320.0" y1="1663.2" x2="320.0" y2="1657.5" stroke="#757575" stroke-width="0.8"/>
<line x1="321.5" y1="1663.2" x2="321.5" y2="1651.5" stroke="#757575" stroke-width="0.9"/>
<line x1="323.0" y1="1663.2" x2="323.0" y2="1660.0" stroke="#757575" stroke-width="0.8"/>
<line x1="107.0" y1="1663.2" x2="107.0" y2="1662.0" stroke="#757575" stroke-width="0.7"/>
<line x1="201.0" y1="1663.2" x2="201.0" y2="1662.0" stroke="#757575" stroke-width="0.7"/>
<line x1="218.0" y1="1663.2" x2="218.0" y2="1661.8" stroke="#757575" stroke-width="0.7"/>
<line x1="255.0" y1="1663.2" x2="255.0" y2="1662.0" stroke="#757575" stroke-width="0.7"/>
<line x1="270.0" y1="1663.2" x2="270.0" y2="1661.0" stroke="#757575" stroke-width="0.7"/>
<line x1="297.0" y1="1663.2" x2="297.0" y2="1662.0" stroke="#757575" stroke-width="0.7"/>
<line x1="350.0" y1="1663.2" x2="350.0" y2="1662.0" stroke="#757575" stroke-width="0.7"/>
<path d="M62.7 1560.2 V1663.2 H357.2" fill="none" stroke="#3a3a3a" stroke-width="0.9"/>
<line x1="60.9" y1="1663.5" x2="62.7" y2="1663.5" stroke="#3a3a3a" stroke-width="0.6"/>
<text class="dj" x="59.5" y="1665.5" text-anchor="end" font-size="5.55" fill="#2c2c2c">0.0e0</text>
<line x1="60.9" y1="1647.2" x2="62.7" y2="1647.2" stroke="#3a3a3a" stroke-width="0.6"/>
<text class="dj" x="59.5" y="1649.2" text-anchor="end" font-size="5.55" fill="#2c2c2c">1.0e5</text>
<line x1="60.9" y1="1630.8" x2="62.7" y2="1630.8" stroke="#3a3a3a" stroke-width="0.6"/>
<text class="dj" x="59.5" y="1632.8" text-anchor="end" font-size="5.55" fill="#2c2c2c">2.0e5</text>
<line x1="60.9" y1="1614.5" x2="62.7" y2="1614.5" stroke="#3a3a3a" stroke-width="0.6"/>
<text class="dj" x="59.5" y="1616.5" text-anchor="end" font-size="5.55" fill="#2c2c2c">3.0e5</text>
<line x1="60.9" y1="1598.2" x2="62.7" y2="1598.2" stroke="#3a3a3a" stroke-width="0.6"/>
<text class="dj" x="59.5" y="1600.2" text-anchor="end" font-size="5.55" fill="#2c2c2c">4.0e5</text>
<line x1="60.9" y1="1581.8" x2="62.7" y2="1581.8" stroke="#3a3a3a" stroke-width="0.6"/>
<text class="dj" x="59.5" y="1583.8" text-anchor="end" font-size="5.55" fill="#2c2c2c">5.0e5</text>
<line x1="60.9" y1="1565.5" x2="62.7" y2="1565.5" stroke="#3a3a3a" stroke-width="0.6"/>
<text class="dj" x="59.5" y="1567.5" text-anchor="end" font-size="5.55" fill="#2c2c2c">6.0e5</text>
<line x1="62.8" y1="1663.2" x2="62.8" y2="1665.0" stroke="#3a3a3a" stroke-width="0.6"/>
<text class="dj" x="62.8" y="1673.4" text-anchor="middle" font-size="5.3" fill="#2c2c2c">150.0</text>
<line x1="82.5" y1="1663.2" x2="82.5" y2="1665.0" stroke="#3a3a3a" stroke-width="0.6"/>
<text class="dj" x="82.5" y="1673.4" text-anchor="middle" font-size="5.3" fill="#2c2c2c">160.0</text>
<line x1="102.1" y1="1663.2" x2="102.1" y2="1665.0" stroke="#3a3a3a" stroke-width="0.6"/>
<text class="dj" x="102.1" y="1673.4" text-anchor="middle" font-size="5.3" fill="#2c2c2c">170.0</text>
<line x1="121.8" y1="1663.2" x2="121.8" y2="1665.0" stroke="#3a3a3a" stroke-width="0.6"/>
<text class="dj" x="121.8" y="1673.4" text-anchor="middle" font-size="5.3" fill="#2c2c2c">180.0</text>
<line x1="141.4" y1="1663.2" x2="141.4" y2="1665.0" stroke="#3a3a3a" stroke-width="0.6"/>
<text class="dj" x="141.4" y="1673.4" text-anchor="middle" font-size="5.3" fill="#2c2c2c">190.0</text>
<line x1="161.1" y1="1663.2" x2="161.1" y2="1665.0" stroke="#3a3a3a" stroke-width="0.6"/>
<text class="dj" x="161.1" y="1673.4" text-anchor="middle" font-size="5.3" fill="#2c2c2c">200.0</text>
<line x1="180.8" y1="1663.2" x2="180.8" y2="1665.0" stroke="#3a3a3a" stroke-width="0.6"/>
<text class="dj" x="180.8" y="1673.4" text-anchor="middle" font-size="5.3" fill="#2c2c2c">210.0</text>
<line x1="200.4" y1="1663.2" x2="200.4" y2="1665.0" stroke="#3a3a3a" stroke-width="0.6"/>
<text class="dj" x="200.4" y="1673.4" text-anchor="middle" font-size="5.3" fill="#2c2c2c">220.0</text>
<line x1="220.1" y1="1663.2" x2="220.1" y2="1665.0" stroke="#3a3a3a" stroke-width="0.6"/>
<text class="dj" x="220.1" y="1673.4" text-anchor="middle" font-size="5.3" fill="#2c2c2c">230.0</text>
<line x1="239.7" y1="1663.2" x2="239.7" y2="1665.0" stroke="#3a3a3a" stroke-width="0.6"/>
<text class="dj" x="239.7" y="1673.4" text-anchor="middle" font-size="5.3" fill="#2c2c2c">240.0</text>
<line x1="259.4" y1="1663.2" x2="259.4" y2="1665.0" stroke="#3a3a3a" stroke-width="0.6"/>
<text class="dj" x="259.4" y="1673.4" text-anchor="middle" font-size="5.3" fill="#2c2c2c">250.0</text>
<line x1="279.1" y1="1663.2" x2="279.1" y2="1665.0" stroke="#3a3a3a" stroke-width="0.6"/>
<text class="dj" x="279.1" y="1673.4" text-anchor="middle" font-size="5.3" fill="#2c2c2c">260.0</text>
<line x1="298.7" y1="1663.2" x2="298.7" y2="1665.0" stroke="#3a3a3a" stroke-width="0.6"/>
<text class="dj" x="298.7" y="1673.4" text-anchor="middle" font-size="5.3" fill="#2c2c2c">270.0</text>
<line x1="318.4" y1="1663.2" x2="318.4" y2="1665.0" stroke="#3a3a3a" stroke-width="0.6"/>
<text class="dj" x="318.4" y="1673.4" text-anchor="middle" font-size="5.3" fill="#2c2c2c">280.0</text>
<line x1="338.0" y1="1663.2" x2="338.0" y2="1665.0" stroke="#3a3a3a" stroke-width="0.6"/>
<text class="dj" x="338.0" y="1673.4" text-anchor="middle" font-size="5.3" fill="#2c2c2c">290.0</text>
<line x1="357.7" y1="1663.2" x2="357.7" y2="1665.0" stroke="#3a3a3a" stroke-width="0.6"/>
<text class="dj" x="357.7" y="1673.4" text-anchor="middle" font-size="5.3" fill="#2c2c2c">300.0</text>
<text x="209.4" y="1679.4" text-anchor="middle" font-size="5.2" font-style="italic" fill="#2c2c2c">m/z</text>
<text transform="translate(18.0,1612.2) rotate(-90)" text-anchor="middle" font-size="5.6" fill="#2c2c2c">强度</text>
<text x="312.3" y="1569.6" text-anchor="middle" font-size="6.15" fill="#e8232a">Mass:277.0774</text>
<text x="277.2" y="1599.9" text-anchor="middle" font-size="6.15" fill="#e8232a">Mass:259.0660</text>
<text x="166.5" y="1615.1" text-anchor="middle" font-size="6.15" fill="#e8232a">Mass:203.0063</text>
</g>
<path d="M311.5 1574V1578.5M276.5 1604V1608.5M166.5 1620V1624.5" stroke="#e8232a" stroke-width="0.9"/>
<g>
<text class="dj" x="385.0" y="1542.8" font-size="6" font-weight="bold" fill="#222">MASS</text>
<text class="dj" x="384.4" y="1555.9" font-size="5" fill="#444" textLength="155.1" lengthAdjust="spacingAndGlyphs">质谱图-1_10#210;TAPI-1000-TOFMS+Positive,Rt:1.742;</text>
<rect x="431.8" y="1560.2" width="294.8" height="103.0" fill="none" stroke="#d6d6d6" stroke-width="0.8"/>
<line x1="520.5" y1="1663.2" x2="520.5" y2="1632.5" stroke="#757575" stroke-width="0.9"/>
<line x1="521.5" y1="1663.2" x2="521.5" y2="1657.5" stroke="#383838" stroke-width="1.0"/>
<line x1="522.7" y1="1663.2" x2="522.7" y2="1661.0" stroke="#757575" stroke-width="0.8"/>
<line x1="556.0" y1="1663.2" x2="556.0" y2="1658.5" stroke="#757575" stroke-width="0.8"/>
<line x1="557.0" y1="1663.2" x2="557.0" y2="1661.0" stroke="#383838" stroke-width="0.8"/>
<line x1="580.5" y1="1663.2" x2="580.5" y2="1572.5" stroke="#757575" stroke-width="1.0"/>
<line x1="581.5" y1="1663.2" x2="581.5" y2="1655.0" stroke="#383838" stroke-width="0.9"/>
<line x1="582.5" y1="1663.2" x2="582.5" y2="1652.5" stroke="#757575" stroke-width="0.9"/>
<line x1="603.5" y1="1663.2" x2="603.5" y2="1594.0" stroke="#757575" stroke-width="1.0"/>
<line x1="604.5" y1="1663.2" x2="604.5" y2="1656.0" stroke="#383838" stroke-width="0.9"/>
<line x1="605.3" y1="1663.2" x2="605.3" y2="1655.0" stroke="#757575" stroke-width="0.8"/>
<line x1="630.0" y1="1663.2" x2="630.0" y2="1612.5" stroke="#757575" stroke-width="1.0"/>
<line x1="630.8" y1="1663.2" x2="630.8" y2="1642.5" stroke="#383838" stroke-width="1.1"/>
<line x1="631.8" y1="1663.2" x2="631.8" y2="1659.0" stroke="#757575" stroke-width="0.8"/>
<line x1="690.0" y1="1663.2" x2="690.0" y2="1652.5" stroke="#757575" stroke-width="0.9"/>
<line x1="691.0" y1="1663.2" x2="691.0" y2="1661.0" stroke="#383838" stroke-width="0.8"/>
<line x1="461.0" y1="1663.2" x2="461.0" y2="1662.0" stroke="#757575" stroke-width="0.7"/>
<line x1="493.0" y1="1663.2" x2="493.0" y2="1661.8" stroke="#757575" stroke-width="0.7"/>
<line x1="540.0" y1="1663.2" x2="540.0" y2="1662.0" stroke="#757575" stroke-width="0.7"/>
<line x1="652.0" y1="1663.2" x2="652.0" y2="1662.0" stroke="#757575" stroke-width="0.7"/>
<line x1="668.0" y1="1663.2" x2="668.0" y2="1661.5" stroke="#757575" stroke-width="0.7"/>
<path d="M431.8 1560.2 V1663.2 H726.6" fill="none" stroke="#3a3a3a" stroke-width="0.9"/>
<line x1="430.0" y1="1663.5" x2="431.8" y2="1663.5" stroke="#3a3a3a" stroke-width="0.6"/>
<text class="dj" x="428.6" y="1665.5" text-anchor="end" font-size="5.55" fill="#2c2c2c">0.0e0</text>
<line x1="430.0" y1="1645.0" x2="431.8" y2="1645.0" stroke="#3a3a3a" stroke-width="0.6"/>
<text class="dj" x="428.6" y="1647.0" text-anchor="end" font-size="5.55" fill="#2c2c2c">2.0e5</text>
<line x1="430.0" y1="1626.6" x2="431.8" y2="1626.6" stroke="#3a3a3a" stroke-width="0.6"/>
<text class="dj" x="428.6" y="1628.6" text-anchor="end" font-size="5.55" fill="#2c2c2c">4.0e5</text>
<line x1="430.0" y1="1608.2" x2="431.8" y2="1608.2" stroke="#3a3a3a" stroke-width="0.6"/>
<text class="dj" x="428.6" y="1610.2" text-anchor="end" font-size="5.55" fill="#2c2c2c">6.0e5</text>
<line x1="430.0" y1="1589.7" x2="431.8" y2="1589.7" stroke="#3a3a3a" stroke-width="0.6"/>
<text class="dj" x="428.6" y="1591.7" text-anchor="end" font-size="5.55" fill="#2c2c2c">8.0e5</text>
<line x1="430.0" y1="1571.2" x2="431.8" y2="1571.2" stroke="#3a3a3a" stroke-width="0.6"/>
<text class="dj" x="428.6" y="1573.2" text-anchor="end" font-size="5.55" fill="#2c2c2c">1.0e6</text>
<line x1="432.6" y1="1663.2" x2="432.6" y2="1665.0" stroke="#3a3a3a" stroke-width="0.6"/>
<text class="dj" x="432.6" y="1673.4" text-anchor="middle" font-size="5.3" fill="#2c2c2c">100.0</text>
<line x1="462.0" y1="1663.2" x2="462.0" y2="1665.0" stroke="#3a3a3a" stroke-width="0.6"/>
<text class="dj" x="462.0" y="1673.4" text-anchor="middle" font-size="5.3" fill="#2c2c2c">120.0</text>
<line x1="491.4" y1="1663.2" x2="491.4" y2="1665.0" stroke="#3a3a3a" stroke-width="0.6"/>
<text class="dj" x="491.4" y="1673.4" text-anchor="middle" font-size="5.3" fill="#2c2c2c">140.0</text>
<line x1="520.8" y1="1663.2" x2="520.8" y2="1665.0" stroke="#3a3a3a" stroke-width="0.6"/>
<text class="dj" x="520.8" y="1673.4" text-anchor="middle" font-size="5.3" fill="#2c2c2c">160.0</text>
<line x1="550.2" y1="1663.2" x2="550.2" y2="1665.0" stroke="#3a3a3a" stroke-width="0.6"/>
<text class="dj" x="550.2" y="1673.4" text-anchor="middle" font-size="5.3" fill="#2c2c2c">180.0</text>
<line x1="579.7" y1="1663.2" x2="579.7" y2="1665.0" stroke="#3a3a3a" stroke-width="0.6"/>
<text class="dj" x="579.7" y="1673.4" text-anchor="middle" font-size="5.3" fill="#2c2c2c">200.0</text>
<line x1="609.1" y1="1663.2" x2="609.1" y2="1665.0" stroke="#3a3a3a" stroke-width="0.6"/>
<text class="dj" x="609.1" y="1673.4" text-anchor="middle" font-size="5.3" fill="#2c2c2c">220.0</text>
<line x1="638.5" y1="1663.2" x2="638.5" y2="1665.0" stroke="#3a3a3a" stroke-width="0.6"/>
<text class="dj" x="638.5" y="1673.4" text-anchor="middle" font-size="5.3" fill="#2c2c2c">240.0</text>
<line x1="667.9" y1="1663.2" x2="667.9" y2="1665.0" stroke="#3a3a3a" stroke-width="0.6"/>
<text class="dj" x="667.9" y="1673.4" text-anchor="middle" font-size="5.3" fill="#2c2c2c">260.0</text>
<line x1="697.3" y1="1663.2" x2="697.3" y2="1665.0" stroke="#3a3a3a" stroke-width="0.6"/>
<text class="dj" x="697.3" y="1673.4" text-anchor="middle" font-size="5.3" fill="#2c2c2c">280.0</text>
<line x1="726.7" y1="1663.2" x2="726.7" y2="1665.0" stroke="#3a3a3a" stroke-width="0.6"/>
<text class="dj" x="726.7" y="1673.4" text-anchor="middle" font-size="5.3" fill="#2c2c2c">300.0</text>
<text x="578.7" y="1679.4" text-anchor="middle" font-size="5.2" font-style="italic" fill="#2c2c2c">m/z</text>
<text transform="translate(388.0,1612.2) rotate(-90)" text-anchor="middle" font-size="5.6" fill="#2c2c2c">强度</text>
<text x="581.5" y="1568.6" text-anchor="middle" font-size="6.15" fill="#e8232a">Mass:201.1046</text>
<text x="603.5" y="1590.6" text-anchor="middle" font-size="6.15" fill="#e8232a">Mass:216.1410</text>
<text x="630.0" y="1609.1" text-anchor="middle" font-size="6.15" fill="#e8232a">Mass:234.1526</text>
<text x="521.0" y="1628.1" text-anchor="middle" font-size="6.15" fill="#e8232a">Mass:168.0796</text>
</g>
<path d="M580.5 1572.5V1577M603.5 1594V1598.5M630 1612.5V1617M520.5 1632.5V1637" stroke="#e8232a" stroke-width="0.9"/>
</svg>
<svg class="ic" style="top:279.8px" viewBox="0 0 32 40" width="32" height="40"><circle cx="15.6" cy="20" r="15" fill="#f0f0f1"/><path d="M15.6 4.2V11Q15.6 13.6 18.6 14.1Q22.8 14.8 22.8 17.2Q22.8 18.9 20.2 18.9H11.8" fill="none" stroke="#10109a" stroke-width="2" stroke-linecap="round" stroke-linejoin="round"/><path d="M8.6 24.1H12Q14.4 24.1 14.4 26.5V34.6" fill="none" stroke="#10109a" stroke-width="2" stroke-linecap="round" stroke-linejoin="round"/></svg>
<h2 class="hd" style="top:258.6px;letter-spacing:1.0px"><span class="ln">国抽<span class="l">25</span>种水果进行限量值浓度（<span class="l">MRL)</span>加标测试，综合加标检出率＞</span><span class="ln" style="letter-spacing:0"><span class="l">90%</span></span></h2>
<svg class="ic" style="top:734.8px" viewBox="0 0 32 40" width="32" height="40"><circle cx="15.6" cy="20" r="15" fill="#f0f0f1"/><path d="M15.6 4.2V11Q15.6 13.6 18.6 14.1Q22.8 14.8 22.8 17.2Q22.8 18.9 20.2 18.9H11.8" fill="none" stroke="#10109a" stroke-width="2" stroke-linecap="round" stroke-linejoin="round"/><path d="M8.6 24.1H12Q14.4 24.1 14.4 26.5V34.6" fill="none" stroke="#10109a" stroke-width="2" stroke-linecap="round" stroke-linejoin="round"/></svg>
<h2 class="hd" style="top:734.8px"><span class="ln">药片中非法添加直接检测</span></h2>
<svg class="ic" style="top:1274.8px" viewBox="0 0 32 40" width="32" height="40"><circle cx="15.6" cy="20" r="15" fill="#f0f0f1"/><path d="M15.6 4.2V11Q15.6 13.6 18.6 14.1Q22.8 14.8 22.8 17.2Q22.8 18.9 20.2 18.9H11.8" fill="none" stroke="#10109a" stroke-width="2" stroke-linecap="round" stroke-linejoin="round"/><path d="M8.6 24.1H12Q14.4 24.1 14.4 26.5V34.6" fill="none" stroke="#10109a" stroke-width="2" stroke-linecap="round" stroke-linejoin="round"/></svg>
<h2 class="hd" style="top:1274.6px"><span class="ln">食品中兽药残留检测</span></h2>
<p class="cap" style="left:168.8px;top:973.2px;font-size:19.8px">格列齐特片质谱图</p>
<p class="cap" style="left:571.3px;top:973.0px;font-size:19.8px">卡托普利片质谱图</p>
<p class="cap" style="left:158.4px;top:1198.2px;font-size:19.8px">西地那非片质谱图</p>
<p class="cap" style="left:580.2px;top:1199.0px;font-size:19.6px">风湿舒络宝中双氯芬酸质谱图</p>
<p class="cap" style="left:179.8px;top:1498.2px;font-size:19.5px">特步他林质谱图</p>
<p class="cap" style="left:568.1px;top:1498.2px;font-size:19.5px">马份特罗质谱图</p>
<p class="cap" style="left:179.9px;top:1699.0px;font-size:19.5px">克伦特罗质谱图</p>
<p class="cap" style="left:568.6px;top:1699.0px;font-size:19.5px">赛布特罗质谱图</p>
</body></html>
